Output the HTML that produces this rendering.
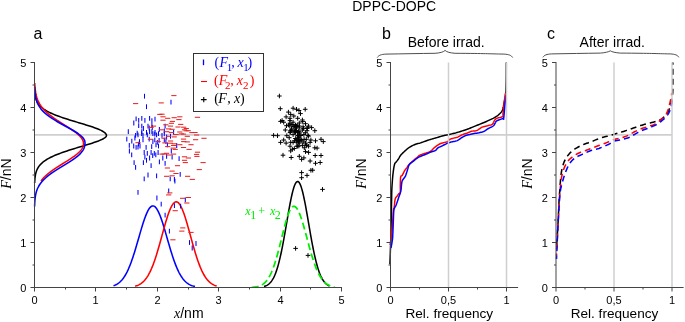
<!DOCTYPE html>
<html><head><meta charset="utf-8"><style>
html,body{margin:0;padding:0;background:#fff;overflow:hidden;}
svg{display:block;}
</style></head><body>
<svg style="will-change:transform" width="685" height="322" viewBox="0 0 685 322">
<line x1="34.5" y1="134.8" x2="672.0" y2="134.8" stroke="#cfcfcf" stroke-width="1.7"/>
<path d="M35.08,95.00 L35.16,95.55 L35.26,96.11 L35.36,96.66 L35.47,97.21 L35.60,97.77 L35.74,98.32 L35.90,98.87 L36.07,99.43 L36.27,99.98 L36.48,100.53 L36.72,101.09 L36.98,101.64 L37.26,102.19 L37.58,102.75 L37.92,103.30 L38.29,103.86 L38.70,104.41 L39.14,104.96 L39.62,105.52 L40.13,106.07 L40.69,106.62 L41.29,107.18 L41.94,107.73 L42.64,108.28 L43.38,108.84 L44.17,109.39 L45.02,109.94 L45.92,110.50 L46.88,111.05 L47.89,111.60 L48.95,112.16 L50.08,112.71 L51.26,113.26 L52.50,113.82 L53.80,114.37 L55.15,114.92 L56.56,115.48 L58.02,116.03 L59.53,116.58 L61.10,117.14 L62.71,117.69 L64.36,118.25 L66.06,118.80 L67.79,119.35 L69.56,119.91 L71.35,120.46 L73.16,121.01 L75.00,121.57 L76.84,122.12 L78.69,122.67 L80.53,123.23 L82.37,123.78 L84.19,124.33 L85.99,124.89 L87.75,125.44 L89.48,125.99 L91.17,126.55 L92.80,127.10 L94.37,127.65 L95.87,128.21 L97.30,128.76 L98.65,129.31 L99.91,129.87 L101.07,130.42 L102.14,130.97 L103.10,131.53 L103.94,132.08 L104.67,132.64 L105.29,133.19 L105.78,133.74 L106.14,134.30 L106.38,134.85 L106.49,135.40 L106.43,135.96 L106.15,136.51 L105.67,137.06 L105.03,137.62 L104.23,138.17 L103.30,138.72 L102.24,139.28 L101.07,139.83 L99.79,140.38 L98.41,140.94 L96.95,141.49 L95.41,142.04 L93.80,142.60 L92.13,143.15 L90.42,143.70 L88.66,144.26 L86.87,144.81 L85.06,145.36 L83.23,145.92 L81.39,146.47 L79.55,147.03 L77.71,147.58 L75.88,148.13 L74.06,148.69 L72.27,149.24 L70.51,149.79 L68.77,150.35 L67.07,150.90 L65.41,151.45 L63.79,152.01 L62.21,152.56 L60.68,153.11 L59.20,153.67 L57.76,154.22 L56.38,154.77 L55.06,155.33 L53.78,155.88 L52.56,156.43 L51.39,156.99 L50.28,157.54 L49.22,158.09 L48.21,158.65 L47.25,159.20 L46.35,159.75 L45.49,160.31 L44.68,160.86 L43.92,161.42 L43.20,161.97 L42.53,162.52 L41.90,163.08 L41.31,163.63 L40.75,164.18 L40.24,164.74 L39.76,165.29 L39.32,165.84 L38.90,166.40 L38.52,166.95 L38.16,167.50 L37.84,168.06 L37.53,168.61 L37.26,169.16 L37.00,169.72 L36.77,170.27 L36.55,170.82 L36.35,171.38 L36.17,171.93 L36.01,172.48 L35.86,173.04 L35.72,173.59 L35.60,174.14 L35.48,174.70 L35.38,175.25 L35.29,175.81 L35.20,176.36 L35.13,176.91 L35.06,177.47 L35.00,178.02 L34.94,178.57 L34.89,179.13 L34.85,179.68 L34.81,180.23 L34.77,180.79 L34.74,181.34 L34.71,181.89 L34.69,182.45 L34.67,183.00" fill="none" stroke="#000" stroke-width="1.55" stroke-linejoin="round"/>
<path d="M34.76,83.10 L34.79,83.72 L34.82,84.33 L34.86,84.95 L34.90,85.56 L34.94,86.18 L34.99,86.79 L35.04,87.41 L35.09,88.03 L35.15,88.64 L35.22,89.26 L35.29,89.87 L35.37,90.49 L35.45,91.10 L35.55,91.72 L35.65,92.34 L35.75,92.95 L35.87,93.57 L36.00,94.18 L36.13,94.80 L36.28,95.41 L36.43,96.03 L36.60,96.65 L36.78,97.26 L36.97,97.88 L37.18,98.49 L37.40,99.11 L37.63,99.72 L37.88,100.34 L38.15,100.96 L38.43,101.57 L38.73,102.19 L39.05,102.80 L39.39,103.42 L39.74,104.03 L40.12,104.65 L40.52,105.27 L40.93,105.88 L41.37,106.50 L41.83,107.11 L42.31,107.73 L42.82,108.34 L43.35,108.96 L43.90,109.58 L44.47,110.19 L45.07,110.81 L45.70,111.42 L46.34,112.04 L47.01,112.65 L47.71,113.27 L48.42,113.89 L49.16,114.50 L49.93,115.12 L50.71,115.73 L51.52,116.35 L52.34,116.96 L53.19,117.58 L54.05,118.20 L54.94,118.81 L55.84,119.43 L56.75,120.04 L57.68,120.66 L58.62,121.27 L59.57,121.89 L60.54,122.51 L61.50,123.12 L62.48,123.74 L63.46,124.35 L64.44,124.97 L65.42,125.58 L66.39,126.20 L67.37,126.82 L68.33,127.43 L69.29,128.05 L70.23,128.66 L71.16,129.28 L72.07,129.89 L72.96,130.51 L73.84,131.13 L74.68,131.74 L75.50,132.36 L76.30,132.97 L77.06,133.59 L77.79,134.21 L78.48,134.82 L79.14,135.44 L79.75,136.05 L80.33,136.67 L80.86,137.28 L81.34,137.90 L81.78,138.52 L82.18,139.13 L82.52,139.75 L82.81,140.36 L83.05,140.98 L83.25,141.59 L83.38,142.21 L83.47,142.83 L83.50,143.44 L83.49,144.06 L83.43,144.67 L83.33,145.29 L83.19,145.90 L83.00,146.52 L82.77,147.14 L82.49,147.75 L82.16,148.37 L81.78,148.98 L81.36,149.60 L80.89,150.21 L80.38,150.83 L79.83,151.45 L79.24,152.06 L78.60,152.68 L77.93,153.29 L77.22,153.91 L76.47,154.52 L75.69,155.14 L74.88,155.76 L74.05,156.37 L73.18,156.99 L72.29,157.60 L71.38,158.22 L70.45,158.83 L69.51,159.45 L68.55,160.07 L67.57,160.68 L66.59,161.30 L65.60,161.91 L64.60,162.53 L63.61,163.14 L62.61,163.76 L61.61,164.38 L60.62,164.99 L59.64,165.61 L58.66,166.22 L57.69,166.84 L56.74,167.45 L55.80,168.07 L54.87,168.69 L53.96,169.30 L53.07,169.92 L52.20,170.53 L51.35,171.15 L50.52,171.76 L49.71,172.38 L48.92,173.00 L48.16,173.61 L47.43,174.23 L46.71,174.84 L46.03,175.46 L45.36,176.07 L44.73,176.69 L44.11,177.31 L43.53,177.92 L42.97,178.54 L42.43,179.15 L41.92,179.77 L41.43,180.38 L40.97,181.00" fill="none" stroke="#ff0000" stroke-width="1.55" stroke-linejoin="round"/>
<path d="M34.68,86.80 L34.71,87.55 L34.74,88.31 L34.78,89.06 L34.83,89.81 L34.88,90.57 L34.93,91.32 L35.00,92.07 L35.07,92.83 L35.15,93.58 L35.24,94.33 L35.35,95.09 L35.46,95.84 L35.59,96.59 L35.74,97.35 L35.90,98.10 L36.08,98.86 L36.28,99.61 L36.50,100.36 L36.74,101.12 L37.00,101.87 L37.30,102.62 L37.61,103.38 L37.96,104.13 L38.34,104.88 L38.75,105.64 L39.20,106.39 L39.68,107.14 L40.20,107.90 L40.76,108.65 L41.37,109.40 L42.01,110.16 L42.70,110.91 L43.43,111.66 L44.20,112.42 L45.02,113.17 L45.89,113.92 L46.81,114.68 L47.77,115.43 L48.77,116.18 L49.83,116.94 L50.92,117.69 L52.06,118.45 L53.23,119.20 L54.45,119.95 L55.70,120.71 L56.98,121.46 L58.29,122.21 L59.63,122.97 L60.98,123.72 L62.35,124.47 L63.74,125.23 L65.12,125.98 L66.51,126.73 L67.89,127.49 L69.26,128.24 L70.62,128.99 L71.94,129.75 L73.24,130.50 L74.50,131.25 L75.72,132.01 L76.88,132.76 L77.99,133.51 L79.03,134.27 L80.01,135.02 L80.91,135.77 L81.74,136.53 L82.48,137.28 L83.13,138.04 L83.69,138.79 L84.15,139.54 L84.52,140.30 L84.78,141.05 L84.94,141.80 L85.00,142.56 L84.99,143.31 L84.96,144.06 L84.89,144.82 L84.77,145.57 L84.61,146.32 L84.41,147.08 L84.15,147.83 L83.83,148.58 L83.47,149.34 L83.04,150.09 L82.56,150.84 L82.02,151.60 L81.42,152.35 L80.76,153.10 L80.05,153.86 L79.29,154.61 L78.47,155.36 L77.60,156.12 L76.68,156.87 L75.71,157.63 L74.70,158.38 L73.66,159.13 L72.57,159.89 L71.45,160.64 L70.31,161.39 L69.14,162.15 L67.94,162.90 L66.73,163.65 L65.51,164.41 L64.28,165.16 L63.04,165.91 L61.81,166.67 L60.57,167.42 L59.35,168.17 L58.13,168.93 L56.94,169.68 L55.75,170.43 L54.60,171.19 L53.46,171.94 L52.35,172.69 L51.28,173.45 L50.23,174.20 L49.22,174.95 L48.25,175.71 L47.31,176.46 L46.41,177.22 L45.55,177.97 L44.73,178.72 L43.95,179.48 L43.21,180.23 L42.51,180.98 L41.85,181.74 L41.23,182.49 L40.64,183.24 L40.10,184.00 L39.59,184.75 L39.12,185.50 L38.68,186.26 L38.27,187.01 L37.90,187.76 L37.55,188.52 L37.24,189.27 L36.95,190.02 L36.68,190.78 L36.44,191.53 L36.22,192.28 L36.03,193.04 L35.85,193.79 L35.69,194.54 L35.54,195.30 L35.42,196.05 L35.30,196.81 L35.20,197.56 L35.11,198.31 L35.03,199.07 L34.96,199.82 L34.89,200.57 L34.84,201.33 L34.79,202.08 L34.75,202.83 L34.71,203.59 L34.68,204.34 L34.65,205.09 L34.63,205.85 L34.61,206.60" fill="none" stroke="#0000ff" stroke-width="1.55" stroke-linejoin="round"/>
<path d="M113.50,285.76 L114.09,285.55 L114.67,285.32 L115.26,285.07 L115.85,284.79 L116.43,284.48 L117.02,284.15 L117.60,283.78 L118.19,283.39 L118.78,282.95 L119.36,282.48 L119.95,281.97 L120.54,281.42 L121.12,280.83 L121.71,280.19 L122.29,279.50 L122.88,278.76 L123.47,277.98 L124.05,277.13 L124.64,276.24 L125.23,275.28 L125.81,274.27 L126.40,273.20 L126.99,272.07 L127.57,270.87 L128.16,269.62 L128.74,268.30 L129.33,266.92 L129.92,265.48 L130.50,263.98 L131.09,262.41 L131.68,260.79 L132.26,259.12 L132.85,257.39 L133.44,255.61 L134.02,253.78 L134.61,251.91 L135.19,250.00 L135.78,248.05 L136.37,246.07 L136.95,244.07 L137.54,242.04 L138.13,240.01 L138.71,237.96 L139.30,235.92 L139.88,233.89 L140.47,231.87 L141.06,229.87 L141.64,227.90 L142.23,225.97 L142.82,224.08 L143.40,222.25 L143.99,220.48 L144.58,218.78 L145.16,217.16 L145.75,215.62 L146.33,214.17 L146.92,212.82 L147.51,211.58 L148.09,210.44 L148.68,209.43 L149.27,208.53 L149.85,207.76 L150.44,207.12 L151.03,206.61 L151.61,206.24 L152.20,206.00 L152.78,205.90 L153.37,205.94 L153.96,206.13 L154.54,206.44 L155.13,206.90 L155.72,207.49 L156.30,208.21 L156.89,209.06 L157.47,210.03 L158.06,211.12 L158.65,212.32 L159.23,213.63 L159.82,215.04 L160.41,216.54 L160.99,218.13 L161.58,219.80 L162.17,221.55 L162.75,223.35 L163.34,225.22 L163.92,227.13 L164.51,229.09 L165.10,231.07 L165.68,233.09 L166.27,235.12 L166.86,237.16 L167.44,239.20 L168.03,241.24 L168.62,243.27 L169.20,245.28 L169.79,247.27 L170.37,249.23 L170.96,251.16 L171.55,253.05 L172.13,254.89 L172.72,256.69 L173.31,258.44 L173.89,260.14 L174.48,261.78 L175.06,263.37 L175.65,264.89 L176.24,266.36 L176.82,267.76 L177.41,269.10 L178.00,270.38 L178.58,271.60 L179.17,272.76 L179.76,273.85 L180.34,274.89 L180.93,275.87 L181.51,276.79 L182.10,277.65 L182.69,278.46 L183.27,279.22 L183.86,279.92 L184.45,280.58 L185.03,281.19 L185.62,281.76 L186.21,282.29 L186.79,282.77 L187.38,283.22 L187.96,283.63 L188.55,284.01 L189.14,284.36 L189.72,284.67 L190.31,284.96 L190.90,285.22 L191.48,285.46 L192.07,285.68 L192.65,285.88 L193.24,286.06 L193.83,286.22 L194.41,286.36 L195.00,286.49" fill="none" stroke="#0000ff" stroke-width="1.55" stroke-linejoin="round"/>
<path d="M135.10,286.20 L135.69,286.04 L136.27,285.85 L136.86,285.65 L137.45,285.43 L138.04,285.19 L138.62,284.92 L139.21,284.62 L139.80,284.29 L140.38,283.94 L140.97,283.55 L141.56,283.13 L142.14,282.67 L142.73,282.17 L143.32,281.63 L143.91,281.05 L144.49,280.42 L145.08,279.74 L145.67,279.01 L146.25,278.23 L146.84,277.39 L147.43,276.50 L148.02,275.55 L148.60,274.54 L149.19,273.46 L149.78,272.33 L150.36,271.13 L150.95,269.86 L151.54,268.53 L152.12,267.14 L152.71,265.68 L153.30,264.16 L153.89,262.57 L154.47,260.92 L155.06,259.21 L155.65,257.44 L156.23,255.61 L156.82,253.73 L157.41,251.80 L157.99,249.82 L158.58,247.81 L159.17,245.75 L159.76,243.67 L160.34,241.56 L160.93,239.43 L161.52,237.29 L162.10,235.14 L162.69,232.99 L163.28,230.85 L163.87,228.73 L164.45,226.64 L165.04,224.57 L165.63,222.55 L166.21,220.58 L166.80,218.66 L167.39,216.81 L167.97,215.04 L168.56,213.34 L169.15,211.74 L169.74,210.23 L170.32,208.83 L170.91,207.55 L171.50,206.37 L172.08,205.33 L172.67,204.41 L173.26,203.62 L173.85,202.97 L174.43,202.46 L175.02,202.10 L175.61,201.87 L176.19,201.80 L176.78,201.87 L177.37,202.09 L177.95,202.45 L178.54,202.96 L179.13,203.60 L179.72,204.39 L180.30,205.30 L180.89,206.35 L181.48,207.52 L182.06,208.80 L182.65,210.20 L183.24,211.71 L183.83,213.31 L184.41,215.00 L185.00,216.77 L185.59,218.62 L186.17,220.53 L186.76,222.50 L187.35,224.53 L187.93,226.59 L188.52,228.69 L189.11,230.81 L189.70,232.94 L190.28,235.09 L190.87,237.24 L191.46,239.38 L192.04,241.51 L192.63,243.62 L193.22,245.71 L193.81,247.76 L194.39,249.78 L194.98,251.76 L195.57,253.69 L196.15,255.57 L196.74,257.40 L197.33,259.17 L197.91,260.88 L198.50,262.53 L199.09,264.12 L199.68,265.65 L200.26,267.11 L200.85,268.50 L201.44,269.84 L202.02,271.10 L202.61,272.30 L203.20,273.44 L203.78,274.51 L204.37,275.52 L204.96,276.48 L205.55,277.37 L206.13,278.21 L206.72,278.99 L207.31,279.72 L207.89,280.40 L208.48,281.03 L209.07,281.62 L209.66,282.16 L210.24,282.66 L210.83,283.12 L211.42,283.54 L212.00,283.93 L212.59,284.29 L213.18,284.61 L213.76,284.91 L214.35,285.18 L214.94,285.43 L215.53,285.65 L216.11,285.85 L216.70,286.03" fill="none" stroke="#ff0000" stroke-width="1.55" stroke-linejoin="round"/>
<path d="M264.00,286.50 L264.47,286.36 L264.94,286.21 L265.41,286.03 L265.88,285.84 L266.36,285.62 L266.83,285.38 L267.30,285.11 L267.77,284.82 L268.24,284.49 L268.71,284.13 L269.18,283.73 L269.65,283.29 L270.13,282.82 L270.60,282.29 L271.07,281.72 L271.54,281.10 L272.01,280.42 L272.48,279.68 L272.95,278.89 L273.42,278.03 L273.90,277.10 L274.37,276.11 L274.84,275.04 L275.31,273.90 L275.78,272.68 L276.25,271.38 L276.72,270.00 L277.19,268.53 L277.67,266.98 L278.14,265.34 L278.61,263.62 L279.08,261.81 L279.55,259.92 L280.02,257.94 L280.49,255.87 L280.96,253.72 L281.44,251.49 L281.91,249.19 L282.38,246.81 L282.85,244.37 L283.32,241.86 L283.79,239.29 L284.26,236.68 L284.73,234.02 L285.21,231.32 L285.68,228.59 L286.15,225.85 L286.62,223.10 L287.09,220.35 L287.56,217.60 L288.03,214.88 L288.50,212.20 L288.97,209.55 L289.45,206.96 L289.92,204.44 L290.39,202.00 L290.86,199.64 L291.33,197.39 L291.80,195.25 L292.27,193.23 L292.74,191.34 L293.22,189.59 L293.69,188.00 L294.16,186.56 L294.63,185.30 L295.10,184.20 L295.57,183.29 L296.04,182.56 L296.51,182.01 L296.99,181.67 L297.46,181.51 L297.93,181.55 L298.40,181.78 L298.87,182.20 L299.34,182.82 L299.81,183.62 L300.28,184.61 L300.76,185.77 L301.23,187.11 L301.70,188.61 L302.17,190.26 L302.64,192.06 L303.11,194.00 L303.58,196.07 L304.05,198.26 L304.53,200.56 L305.00,202.95 L305.47,205.42 L305.94,207.97 L306.41,210.58 L306.88,213.25 L307.35,215.95 L307.82,218.68 L308.29,221.43 L308.77,224.18 L309.24,226.93 L309.71,229.67 L310.18,232.38 L310.65,235.06 L311.12,237.71 L311.59,240.31 L312.06,242.85 L312.54,245.33 L313.01,247.75 L313.48,250.10 L313.95,252.38 L314.42,254.57 L314.89,256.69 L315.36,258.72 L315.83,260.67 L316.31,262.53 L316.78,264.31 L317.25,266.00 L317.72,267.60 L318.19,269.12 L318.66,270.55 L319.13,271.90 L319.60,273.17 L320.08,274.35 L320.55,275.47 L321.02,276.51 L321.49,277.47 L321.96,278.37 L322.43,279.21 L322.90,279.98 L323.37,280.69 L323.85,281.35 L324.32,281.95 L324.79,282.50 L325.26,283.01 L325.73,283.47 L326.20,283.89 L326.67,284.28 L327.14,284.62 L327.62,284.94 L328.09,285.22 L328.56,285.48 L329.03,285.71 L329.50,285.92" fill="none" stroke="#000" stroke-width="1.55" stroke-linejoin="round"/>
<path d="M251.70,287.29 L252.30,287.25 L252.89,287.21 L253.49,287.15 L254.08,287.09 L254.68,287.03 L255.27,286.95 L255.87,286.85 L256.47,286.75 L257.06,286.63 L257.66,286.49 L258.25,286.34 L258.85,286.16 L259.44,285.96 L260.04,285.74 L260.64,285.48 L261.23,285.20 L261.83,284.88 L262.42,284.53 L263.02,284.13 L263.61,283.70 L264.21,283.21 L264.81,282.68 L265.40,282.09 L266.00,281.45 L266.59,280.75 L267.19,279.98 L267.78,279.14 L268.38,278.24 L268.97,277.26 L269.57,276.20 L270.17,275.06 L270.76,273.85 L271.36,272.55 L271.95,271.16 L272.55,269.69 L273.14,268.13 L273.74,266.49 L274.34,264.76 L274.93,262.94 L275.53,261.05 L276.12,259.08 L276.72,257.03 L277.31,254.91 L277.91,252.73 L278.51,250.49 L279.10,248.20 L279.70,245.87 L280.29,243.51 L280.89,241.12 L281.48,238.72 L282.08,236.31 L282.68,233.92 L283.27,231.55 L283.87,229.21 L284.46,226.92 L285.06,224.68 L285.65,222.53 L286.25,220.45 L286.85,218.48 L287.44,216.61 L288.04,214.87 L288.63,213.27 L289.23,211.81 L289.82,210.50 L290.42,209.36 L291.02,208.39 L291.61,207.60 L292.21,206.99 L292.80,206.57 L293.40,206.34 L293.99,206.31 L294.59,206.45 L295.18,206.75 L295.78,207.21 L296.38,207.83 L296.97,208.61 L297.57,209.54 L298.16,210.62 L298.76,211.83 L299.35,213.18 L299.95,214.65 L300.55,216.24 L301.14,217.94 L301.74,219.73 L302.33,221.61 L302.93,223.57 L303.52,225.60 L304.12,227.68 L304.72,229.82 L305.31,231.99 L305.91,234.18 L306.50,236.40 L307.10,238.62 L307.69,240.84 L308.29,243.05 L308.89,245.24 L309.48,247.40 L310.08,249.54 L310.67,251.63 L311.27,253.67 L311.86,255.67 L312.46,257.60 L313.06,259.48 L313.65,261.29 L314.25,263.04 L314.84,264.71 L315.44,266.31 L316.03,267.84 L316.63,269.30 L317.23,270.69 L317.82,272.00 L318.42,273.23 L319.01,274.40 L319.61,275.49 L320.20,276.52 L320.80,277.47 L321.39,278.37 L321.99,279.20 L322.59,279.97 L323.18,280.68 L323.78,281.34 L324.37,281.95 L324.97,282.50 L325.56,283.01 L326.16,283.48 L326.76,283.90 L327.35,284.29 L327.95,284.64 L328.54,284.96 L329.14,285.24 L329.73,285.50 L330.33,285.74 L330.93,285.94 L331.52,286.13 L332.12,286.30 L332.71,286.45 L333.31,286.58 L333.90,286.70 L334.50,286.80" fill="none" stroke="#00ee00" stroke-width="1.75" stroke-linejoin="round" stroke-dasharray="7 3.6"/>
<line x1="144.5" y1="93.8" x2="144.5" y2="98.6" stroke="#0000ff" stroke-width="1.05"/>
<line x1="146.5" y1="104.3" x2="146.5" y2="109.1" stroke="#0000ff" stroke-width="1.05"/>
<line x1="136.1" y1="116.5" x2="136.1" y2="121.3" stroke="#0000ff" stroke-width="1.05"/>
<line x1="138.7" y1="118.0" x2="138.7" y2="122.8" stroke="#0000ff" stroke-width="1.05"/>
<line x1="141.8" y1="116.0" x2="141.8" y2="120.8" stroke="#0000ff" stroke-width="1.05"/>
<line x1="144.9" y1="118.0" x2="144.9" y2="122.8" stroke="#0000ff" stroke-width="1.05"/>
<line x1="149.6" y1="116.0" x2="149.6" y2="120.8" stroke="#0000ff" stroke-width="1.05"/>
<line x1="151.9" y1="118.3" x2="151.9" y2="123.1" stroke="#0000ff" stroke-width="1.05"/>
<line x1="155.0" y1="116.8" x2="155.0" y2="121.6" stroke="#0000ff" stroke-width="1.05"/>
<line x1="133.8" y1="120.6" x2="133.8" y2="125.4" stroke="#0000ff" stroke-width="1.05"/>
<line x1="138.7" y1="123.3" x2="138.7" y2="128.1" stroke="#0000ff" stroke-width="1.05"/>
<line x1="141.8" y1="123.7" x2="141.8" y2="128.5" stroke="#0000ff" stroke-width="1.05"/>
<line x1="148.0" y1="123.7" x2="148.0" y2="128.5" stroke="#0000ff" stroke-width="1.05"/>
<line x1="151.9" y1="123.0" x2="151.9" y2="127.8" stroke="#0000ff" stroke-width="1.05"/>
<line x1="128.3" y1="129.2" x2="128.3" y2="134.0" stroke="#0000ff" stroke-width="1.05"/>
<line x1="137.2" y1="130.7" x2="137.2" y2="135.5" stroke="#0000ff" stroke-width="1.05"/>
<line x1="141.8" y1="129.2" x2="141.8" y2="134.0" stroke="#0000ff" stroke-width="1.05"/>
<line x1="143.4" y1="126.1" x2="143.4" y2="130.9" stroke="#0000ff" stroke-width="1.05"/>
<line x1="146.5" y1="130.0" x2="146.5" y2="134.8" stroke="#0000ff" stroke-width="1.05"/>
<line x1="149.6" y1="129.2" x2="149.6" y2="134.0" stroke="#0000ff" stroke-width="1.05"/>
<line x1="151.9" y1="129.2" x2="151.9" y2="134.0" stroke="#0000ff" stroke-width="1.05"/>
<line x1="155.0" y1="130.0" x2="155.0" y2="134.8" stroke="#0000ff" stroke-width="1.05"/>
<line x1="159.4" y1="126.9" x2="159.4" y2="131.7" stroke="#0000ff" stroke-width="1.05"/>
<line x1="149.2" y1="125.6" x2="149.2" y2="130.4" stroke="#0000ff" stroke-width="1.05"/>
<line x1="152.3" y1="125.0" x2="152.3" y2="129.8" stroke="#0000ff" stroke-width="1.05"/>
<line x1="138.0" y1="132.4" x2="138.0" y2="137.2" stroke="#0000ff" stroke-width="1.05"/>
<line x1="141.7" y1="131.2" x2="141.7" y2="136.0" stroke="#0000ff" stroke-width="1.05"/>
<line x1="143.0" y1="133.1" x2="143.0" y2="137.9" stroke="#0000ff" stroke-width="1.05"/>
<line x1="147.3" y1="132.4" x2="147.3" y2="137.2" stroke="#0000ff" stroke-width="1.05"/>
<line x1="152.9" y1="131.2" x2="152.9" y2="136.0" stroke="#0000ff" stroke-width="1.05"/>
<line x1="154.8" y1="131.8" x2="154.8" y2="136.6" stroke="#0000ff" stroke-width="1.05"/>
<line x1="156.6" y1="132.4" x2="156.6" y2="137.2" stroke="#0000ff" stroke-width="1.05"/>
<line x1="158.5" y1="131.2" x2="158.5" y2="136.0" stroke="#0000ff" stroke-width="1.05"/>
<line x1="126.8" y1="136.8" x2="126.8" y2="141.6" stroke="#0000ff" stroke-width="1.05"/>
<line x1="131.8" y1="138.7" x2="131.8" y2="143.5" stroke="#0000ff" stroke-width="1.05"/>
<line x1="134.9" y1="135.6" x2="134.9" y2="140.4" stroke="#0000ff" stroke-width="1.05"/>
<line x1="143.0" y1="137.4" x2="143.0" y2="142.2" stroke="#0000ff" stroke-width="1.05"/>
<line x1="149.2" y1="136.8" x2="149.2" y2="141.6" stroke="#0000ff" stroke-width="1.05"/>
<line x1="152.9" y1="139.3" x2="152.9" y2="144.1" stroke="#0000ff" stroke-width="1.05"/>
<line x1="154.8" y1="137.4" x2="154.8" y2="142.2" stroke="#0000ff" stroke-width="1.05"/>
<line x1="157.3" y1="139.9" x2="157.3" y2="144.7" stroke="#0000ff" stroke-width="1.05"/>
<line x1="159.1" y1="138.0" x2="159.1" y2="142.8" stroke="#0000ff" stroke-width="1.05"/>
<line x1="129.3" y1="143.0" x2="129.3" y2="147.8" stroke="#0000ff" stroke-width="1.05"/>
<line x1="133.7" y1="143.6" x2="133.7" y2="148.4" stroke="#0000ff" stroke-width="1.05"/>
<line x1="136.1" y1="144.9" x2="136.1" y2="149.7" stroke="#0000ff" stroke-width="1.05"/>
<line x1="138.6" y1="141.8" x2="138.6" y2="146.6" stroke="#0000ff" stroke-width="1.05"/>
<line x1="140.0" y1="143.6" x2="140.0" y2="148.4" stroke="#0000ff" stroke-width="1.05"/>
<line x1="146.1" y1="144.9" x2="146.1" y2="149.7" stroke="#0000ff" stroke-width="1.05"/>
<line x1="151.7" y1="144.2" x2="151.7" y2="149.0" stroke="#0000ff" stroke-width="1.05"/>
<line x1="156.0" y1="142.4" x2="156.0" y2="147.2" stroke="#0000ff" stroke-width="1.05"/>
<line x1="158.5" y1="143.6" x2="158.5" y2="148.4" stroke="#0000ff" stroke-width="1.05"/>
<line x1="135.6" y1="133.0" x2="135.6" y2="137.8" stroke="#0000ff" stroke-width="1.05"/>
<line x1="139.5" y1="139.2" x2="139.5" y2="144.0" stroke="#0000ff" stroke-width="1.05"/>
<line x1="138.0" y1="144.7" x2="138.0" y2="149.5" stroke="#0000ff" stroke-width="1.05"/>
<line x1="129.4" y1="148.6" x2="129.4" y2="153.4" stroke="#0000ff" stroke-width="1.05"/>
<line x1="144.2" y1="150.1" x2="144.2" y2="154.9" stroke="#0000ff" stroke-width="1.05"/>
<line x1="147.3" y1="150.9" x2="147.3" y2="155.7" stroke="#0000ff" stroke-width="1.05"/>
<line x1="151.1" y1="150.1" x2="151.1" y2="154.9" stroke="#0000ff" stroke-width="1.05"/>
<line x1="154.3" y1="150.9" x2="154.3" y2="155.7" stroke="#0000ff" stroke-width="1.05"/>
<line x1="158.1" y1="150.1" x2="158.1" y2="154.9" stroke="#0000ff" stroke-width="1.05"/>
<line x1="131.7" y1="152.4" x2="131.7" y2="157.2" stroke="#0000ff" stroke-width="1.05"/>
<line x1="144.9" y1="154.8" x2="144.9" y2="159.6" stroke="#0000ff" stroke-width="1.05"/>
<line x1="149.6" y1="155.6" x2="149.6" y2="160.4" stroke="#0000ff" stroke-width="1.05"/>
<line x1="152.7" y1="153.2" x2="152.7" y2="158.0" stroke="#0000ff" stroke-width="1.05"/>
<line x1="155.8" y1="152.4" x2="155.8" y2="157.2" stroke="#0000ff" stroke-width="1.05"/>
<line x1="146.5" y1="157.9" x2="146.5" y2="162.7" stroke="#0000ff" stroke-width="1.05"/>
<line x1="159.4" y1="159.4" x2="159.4" y2="164.2" stroke="#0000ff" stroke-width="1.05"/>
<line x1="134.1" y1="160.2" x2="134.1" y2="165.0" stroke="#0000ff" stroke-width="1.05"/>
<line x1="143.4" y1="160.2" x2="143.4" y2="165.0" stroke="#0000ff" stroke-width="1.05"/>
<line x1="135.6" y1="164.9" x2="135.6" y2="169.7" stroke="#0000ff" stroke-width="1.05"/>
<line x1="151.1" y1="163.3" x2="151.1" y2="168.1" stroke="#0000ff" stroke-width="1.05"/>
<line x1="148.0" y1="172.6" x2="148.0" y2="177.4" stroke="#0000ff" stroke-width="1.05"/>
<line x1="144.2" y1="176.5" x2="144.2" y2="181.3" stroke="#0000ff" stroke-width="1.05"/>
<line x1="156.6" y1="173.4" x2="156.6" y2="178.2" stroke="#0000ff" stroke-width="1.05"/>
<line x1="171.0" y1="99.7" x2="171.0" y2="104.5" stroke="#0000ff" stroke-width="1.05"/>
<line x1="165.1" y1="123.7" x2="165.1" y2="128.5" stroke="#0000ff" stroke-width="1.05"/>
<line x1="164.3" y1="128.4" x2="164.3" y2="133.2" stroke="#0000ff" stroke-width="1.05"/>
<line x1="173.6" y1="130.0" x2="173.6" y2="134.8" stroke="#0000ff" stroke-width="1.05"/>
<line x1="162.0" y1="133.0" x2="162.0" y2="137.8" stroke="#0000ff" stroke-width="1.05"/>
<line x1="164.3" y1="131.5" x2="164.3" y2="136.3" stroke="#0000ff" stroke-width="1.05"/>
<line x1="166.6" y1="134.6" x2="166.6" y2="139.4" stroke="#0000ff" stroke-width="1.05"/>
<line x1="170.5" y1="133.8" x2="170.5" y2="138.6" stroke="#0000ff" stroke-width="1.05"/>
<line x1="164.3" y1="137.7" x2="164.3" y2="142.5" stroke="#0000ff" stroke-width="1.05"/>
<line x1="165.9" y1="139.2" x2="165.9" y2="144.0" stroke="#0000ff" stroke-width="1.05"/>
<line x1="167.4" y1="142.4" x2="167.4" y2="147.2" stroke="#0000ff" stroke-width="1.05"/>
<line x1="176.7" y1="143.1" x2="176.7" y2="147.9" stroke="#0000ff" stroke-width="1.05"/>
<line x1="162.8" y1="155.6" x2="162.8" y2="160.4" stroke="#0000ff" stroke-width="1.05"/>
<line x1="166.6" y1="154.0" x2="166.6" y2="158.8" stroke="#0000ff" stroke-width="1.05"/>
<line x1="171.3" y1="148.6" x2="171.3" y2="153.4" stroke="#0000ff" stroke-width="1.05"/>
<line x1="172.1" y1="154.8" x2="172.1" y2="159.6" stroke="#0000ff" stroke-width="1.05"/>
<line x1="179.1" y1="156.3" x2="179.1" y2="161.1" stroke="#0000ff" stroke-width="1.05"/>
<line x1="165.1" y1="161.0" x2="165.1" y2="165.8" stroke="#0000ff" stroke-width="1.05"/>
<line x1="180.2" y1="171.9" x2="180.2" y2="176.7" stroke="#0000ff" stroke-width="1.05"/>
<line x1="174.4" y1="177.0" x2="174.4" y2="181.8" stroke="#0000ff" stroke-width="1.05"/>
<line x1="138.0" y1="190.0" x2="138.0" y2="194.8" stroke="#0000ff" stroke-width="1.05"/>
<line x1="156.9" y1="195.6" x2="156.9" y2="200.4" stroke="#0000ff" stroke-width="1.05"/>
<line x1="170.2" y1="176.5" x2="170.2" y2="181.3" stroke="#0000ff" stroke-width="1.05"/>
<line x1="174.9" y1="178.8" x2="174.9" y2="183.6" stroke="#0000ff" stroke-width="1.05"/>
<line x1="168.7" y1="188.4" x2="168.7" y2="193.2" stroke="#0000ff" stroke-width="1.05"/>
<line x1="161.2" y1="201.8" x2="161.2" y2="206.6" stroke="#0000ff" stroke-width="1.05"/>
<line x1="174.4" y1="203.3" x2="174.4" y2="208.1" stroke="#0000ff" stroke-width="1.05"/>
<line x1="180.6" y1="203.7" x2="180.6" y2="208.5" stroke="#0000ff" stroke-width="1.05"/>
<line x1="185.3" y1="197.4" x2="185.3" y2="202.2" stroke="#0000ff" stroke-width="1.05"/>
<line x1="165.1" y1="212.7" x2="165.1" y2="217.5" stroke="#0000ff" stroke-width="1.05"/>
<line x1="169.4" y1="228.7" x2="169.4" y2="233.5" stroke="#0000ff" stroke-width="1.05"/>
<line x1="189.5" y1="240.1" x2="189.5" y2="244.9" stroke="#0000ff" stroke-width="1.05"/>
<line x1="192.2" y1="245.6" x2="192.2" y2="250.4" stroke="#0000ff" stroke-width="1.05"/>
<line x1="196.0" y1="241.1" x2="196.0" y2="245.9" stroke="#0000ff" stroke-width="1.05"/>
<line x1="133.0" y1="103.6" x2="138.2" y2="103.6" stroke="#e82424" stroke-width="1.05"/>
<line x1="158.6" y1="102.9" x2="163.8" y2="102.9" stroke="#e82424" stroke-width="1.05"/>
<line x1="150.9" y1="126.1" x2="156.1" y2="126.1" stroke="#e82424" stroke-width="1.05"/>
<line x1="148.5" y1="127.4" x2="153.7" y2="127.4" stroke="#e82424" stroke-width="1.05"/>
<line x1="157.2" y1="114.4" x2="162.4" y2="114.4" stroke="#e82424" stroke-width="1.05"/>
<line x1="171.3" y1="95.6" x2="176.5" y2="95.6" stroke="#e82424" stroke-width="1.05"/>
<line x1="159.4" y1="114.2" x2="164.6" y2="114.2" stroke="#e82424" stroke-width="1.05"/>
<line x1="160.4" y1="116.8" x2="165.6" y2="116.8" stroke="#e82424" stroke-width="1.05"/>
<line x1="165.1" y1="118.3" x2="170.3" y2="118.3" stroke="#e82424" stroke-width="1.05"/>
<line x1="171.6" y1="117.7" x2="176.8" y2="117.7" stroke="#e82424" stroke-width="1.05"/>
<line x1="177.2" y1="116.8" x2="182.4" y2="116.8" stroke="#e82424" stroke-width="1.05"/>
<line x1="176.3" y1="119.6" x2="181.5" y2="119.6" stroke="#e82424" stroke-width="1.05"/>
<line x1="194.8" y1="117.3" x2="200.0" y2="117.3" stroke="#e82424" stroke-width="1.05"/>
<line x1="160.4" y1="120.2" x2="165.6" y2="120.2" stroke="#e82424" stroke-width="1.05"/>
<line x1="169.8" y1="121.4" x2="175.0" y2="121.4" stroke="#e82424" stroke-width="1.05"/>
<line x1="168.8" y1="123.3" x2="174.0" y2="123.3" stroke="#e82424" stroke-width="1.05"/>
<line x1="163.2" y1="124.8" x2="168.4" y2="124.8" stroke="#e82424" stroke-width="1.05"/>
<line x1="167.9" y1="126.1" x2="173.1" y2="126.1" stroke="#e82424" stroke-width="1.05"/>
<line x1="178.1" y1="124.4" x2="183.3" y2="124.4" stroke="#e82424" stroke-width="1.05"/>
<line x1="175.4" y1="127.0" x2="180.6" y2="127.0" stroke="#e82424" stroke-width="1.05"/>
<line x1="181.1" y1="127.2" x2="186.3" y2="127.2" stroke="#e82424" stroke-width="1.05"/>
<line x1="183.7" y1="128.5" x2="188.9" y2="128.5" stroke="#e82424" stroke-width="1.05"/>
<line x1="166.0" y1="128.9" x2="171.2" y2="128.9" stroke="#e82424" stroke-width="1.05"/>
<line x1="181.9" y1="129.8" x2="187.1" y2="129.8" stroke="#e82424" stroke-width="1.05"/>
<line x1="158.6" y1="129.8" x2="163.8" y2="129.8" stroke="#e82424" stroke-width="1.05"/>
<line x1="185.6" y1="130.7" x2="190.8" y2="130.7" stroke="#e82424" stroke-width="1.05"/>
<line x1="164.2" y1="131.7" x2="169.4" y2="131.7" stroke="#e82424" stroke-width="1.05"/>
<line x1="168.8" y1="132.6" x2="174.0" y2="132.6" stroke="#e82424" stroke-width="1.05"/>
<line x1="177.2" y1="132.0" x2="182.4" y2="132.0" stroke="#e82424" stroke-width="1.05"/>
<line x1="189.3" y1="132.6" x2="194.5" y2="132.6" stroke="#e82424" stroke-width="1.05"/>
<line x1="173.5" y1="134.5" x2="178.7" y2="134.5" stroke="#e82424" stroke-width="1.05"/>
<line x1="180.9" y1="134.1" x2="186.1" y2="134.1" stroke="#e82424" stroke-width="1.05"/>
<line x1="194.0" y1="135.0" x2="199.2" y2="135.0" stroke="#e82424" stroke-width="1.05"/>
<line x1="166.0" y1="136.3" x2="171.2" y2="136.3" stroke="#e82424" stroke-width="1.05"/>
<line x1="171.6" y1="136.9" x2="176.8" y2="136.9" stroke="#e82424" stroke-width="1.05"/>
<line x1="184.7" y1="136.3" x2="189.9" y2="136.3" stroke="#e82424" stroke-width="1.05"/>
<line x1="201.4" y1="138.3" x2="206.6" y2="138.3" stroke="#e82424" stroke-width="1.05"/>
<line x1="161.4" y1="138.2" x2="166.6" y2="138.2" stroke="#e82424" stroke-width="1.05"/>
<line x1="180.9" y1="139.1" x2="186.1" y2="139.1" stroke="#e82424" stroke-width="1.05"/>
<line x1="193.0" y1="139.7" x2="198.2" y2="139.7" stroke="#e82424" stroke-width="1.05"/>
<line x1="167.9" y1="141.0" x2="173.1" y2="141.0" stroke="#e82424" stroke-width="1.05"/>
<line x1="184.7" y1="141.9" x2="189.9" y2="141.9" stroke="#e82424" stroke-width="1.05"/>
<line x1="162.3" y1="142.9" x2="167.5" y2="142.9" stroke="#e82424" stroke-width="1.05"/>
<line x1="171.6" y1="143.8" x2="176.8" y2="143.8" stroke="#e82424" stroke-width="1.05"/>
<line x1="177.2" y1="144.7" x2="182.4" y2="144.7" stroke="#e82424" stroke-width="1.05"/>
<line x1="188.4" y1="144.7" x2="193.6" y2="144.7" stroke="#e82424" stroke-width="1.05"/>
<line x1="165.1" y1="146.6" x2="170.3" y2="146.6" stroke="#e82424" stroke-width="1.05"/>
<line x1="180.9" y1="147.5" x2="186.1" y2="147.5" stroke="#e82424" stroke-width="1.05"/>
<line x1="170.7" y1="148.1" x2="175.9" y2="148.1" stroke="#e82424" stroke-width="1.05"/>
<line x1="186.5" y1="149.4" x2="191.7" y2="149.4" stroke="#e82424" stroke-width="1.05"/>
<line x1="194.9" y1="152.2" x2="200.1" y2="152.2" stroke="#e82424" stroke-width="1.05"/>
<line x1="194.0" y1="154.4" x2="199.2" y2="154.4" stroke="#e82424" stroke-width="1.05"/>
<line x1="161.4" y1="154.0" x2="166.6" y2="154.0" stroke="#e82424" stroke-width="1.05"/>
<line x1="166.0" y1="155.0" x2="171.2" y2="155.0" stroke="#e82424" stroke-width="1.05"/>
<line x1="181.9" y1="156.8" x2="187.1" y2="156.8" stroke="#e82424" stroke-width="1.05"/>
<line x1="169.5" y1="129.3" x2="174.7" y2="129.3" stroke="#e82424" stroke-width="1.05"/>
<line x1="135.4" y1="142.7" x2="140.6" y2="142.7" stroke="#e82424" stroke-width="1.05"/>
<line x1="147.8" y1="139.3" x2="153.0" y2="139.3" stroke="#e82424" stroke-width="1.05"/>
<line x1="155.5" y1="141.6" x2="160.7" y2="141.6" stroke="#e82424" stroke-width="1.05"/>
<line x1="183.5" y1="130.8" x2="188.7" y2="130.8" stroke="#e82424" stroke-width="1.05"/>
<line x1="178.8" y1="133.9" x2="184.0" y2="133.9" stroke="#e82424" stroke-width="1.05"/>
<line x1="167.9" y1="143.2" x2="173.1" y2="143.2" stroke="#e82424" stroke-width="1.05"/>
<line x1="181.1" y1="141.6" x2="186.3" y2="141.6" stroke="#e82424" stroke-width="1.05"/>
<line x1="171.0" y1="145.5" x2="176.2" y2="145.5" stroke="#e82424" stroke-width="1.05"/>
<line x1="172.6" y1="149.4" x2="177.8" y2="149.4" stroke="#e82424" stroke-width="1.05"/>
<line x1="159.4" y1="154.1" x2="164.6" y2="154.1" stroke="#e82424" stroke-width="1.05"/>
<line x1="164.0" y1="153.3" x2="169.2" y2="153.3" stroke="#e82424" stroke-width="1.05"/>
<line x1="171.0" y1="154.1" x2="176.2" y2="154.1" stroke="#e82424" stroke-width="1.05"/>
<line x1="194.3" y1="156.4" x2="199.5" y2="156.4" stroke="#e82424" stroke-width="1.05"/>
<line x1="185.8" y1="158.0" x2="191.0" y2="158.0" stroke="#e82424" stroke-width="1.05"/>
<line x1="181.9" y1="160.3" x2="187.1" y2="160.3" stroke="#e82424" stroke-width="1.05"/>
<line x1="182.7" y1="162.6" x2="187.9" y2="162.6" stroke="#e82424" stroke-width="1.05"/>
<line x1="174.9" y1="165.7" x2="180.1" y2="165.7" stroke="#e82424" stroke-width="1.05"/>
<line x1="200.5" y1="162.6" x2="205.7" y2="162.6" stroke="#e82424" stroke-width="1.05"/>
<line x1="164.8" y1="168.0" x2="170.0" y2="168.0" stroke="#e82424" stroke-width="1.05"/>
<line x1="169.5" y1="171.1" x2="174.7" y2="171.1" stroke="#e82424" stroke-width="1.05"/>
<line x1="173.4" y1="173.5" x2="178.6" y2="173.5" stroke="#e82424" stroke-width="1.05"/>
<line x1="196.7" y1="169.6" x2="201.9" y2="169.6" stroke="#e82424" stroke-width="1.05"/>
<line x1="164.0" y1="176.3" x2="169.2" y2="176.3" stroke="#e82424" stroke-width="1.05"/>
<line x1="169.5" y1="175.8" x2="174.7" y2="175.8" stroke="#e82424" stroke-width="1.05"/>
<line x1="185.0" y1="176.3" x2="190.2" y2="176.3" stroke="#e82424" stroke-width="1.05"/>
<line x1="189.7" y1="179.4" x2="194.9" y2="179.4" stroke="#e82424" stroke-width="1.05"/>
<line x1="167.2" y1="192.9" x2="172.4" y2="192.9" stroke="#e82424" stroke-width="1.05"/>
<line x1="166.1" y1="194.9" x2="171.3" y2="194.9" stroke="#e82424" stroke-width="1.05"/>
<line x1="180.0" y1="198.3" x2="185.2" y2="198.3" stroke="#e82424" stroke-width="1.05"/>
<line x1="185.8" y1="197.5" x2="191.0" y2="197.5" stroke="#e82424" stroke-width="1.05"/>
<line x1="184.2" y1="203.0" x2="189.4" y2="203.0" stroke="#e82424" stroke-width="1.05"/>
<line x1="172.6" y1="210.7" x2="177.8" y2="210.7" stroke="#e82424" stroke-width="1.05"/>
<line x1="180.2" y1="227.9" x2="185.4" y2="227.9" stroke="#e82424" stroke-width="1.05"/>
<line x1="179.2" y1="231.1" x2="184.4" y2="231.1" stroke="#e82424" stroke-width="1.05"/>
<line x1="188.4" y1="232.4" x2="193.6" y2="232.4" stroke="#e82424" stroke-width="1.05"/>
<line x1="170.3" y1="239.8" x2="175.5" y2="239.8" stroke="#e82424" stroke-width="1.05"/>
<line x1="192.4" y1="132.5" x2="197.6" y2="132.5" stroke="#e82424" stroke-width="1.05"/>
<path d="M277.1,96.0h4.6M279.4,93.7v4.6" stroke="#000" stroke-width="1"/>
<path d="M278.0,108.7h4.6M280.3,106.4v4.6" stroke="#000" stroke-width="1"/>
<path d="M290.8,108.2h4.6M293.1,105.9v4.6" stroke="#000" stroke-width="1"/>
<path d="M294.2,109.3h4.6M296.5,107.0v4.6" stroke="#000" stroke-width="1"/>
<path d="M296.7,110.5h4.6M299.0,108.2v4.6" stroke="#000" stroke-width="1"/>
<path d="M302.9,109.3h4.6M305.2,107.0v4.6" stroke="#000" stroke-width="1"/>
<path d="M286.1,112.1h4.6M288.4,109.8v4.6" stroke="#000" stroke-width="1"/>
<path d="M288.4,114.4h4.6M290.7,112.1v4.6" stroke="#000" stroke-width="1"/>
<path d="M298.2,113.6h4.6M300.5,111.3v4.6" stroke="#000" stroke-width="1"/>
<path d="M291.5,116.0h4.6M293.8,113.7v4.6" stroke="#000" stroke-width="1"/>
<path d="M287.7,118.3h4.6M290.0,116.0v4.6" stroke="#000" stroke-width="1"/>
<path d="M295.4,118.3h4.6M297.7,116.0v4.6" stroke="#000" stroke-width="1"/>
<path d="M300.1,120.0h4.6M302.4,117.7v4.6" stroke="#000" stroke-width="1"/>
<path d="M278.3,121.4h4.6M280.6,119.1v4.6" stroke="#000" stroke-width="1"/>
<path d="M281.4,122.2h4.6M283.7,119.9v4.6" stroke="#000" stroke-width="1"/>
<path d="M287.7,120.6h4.6M290.0,118.3v4.6" stroke="#000" stroke-width="1"/>
<path d="M290.8,122.2h4.6M293.1,119.9v4.6" stroke="#000" stroke-width="1"/>
<path d="M297.0,123.0h4.6M299.3,120.7v4.6" stroke="#000" stroke-width="1"/>
<path d="M303.2,123.7h4.6M305.5,121.4v4.6" stroke="#000" stroke-width="1"/>
<path d="M306.3,126.1h4.6M308.6,123.8v4.6" stroke="#000" stroke-width="1"/>
<path d="M292.3,126.1h4.6M294.6,123.8v4.6" stroke="#000" stroke-width="1"/>
<path d="M300.8,126.8h4.6M303.1,124.5v4.6" stroke="#000" stroke-width="1"/>
<path d="M283.0,130.0h4.6M285.3,127.7v4.6" stroke="#000" stroke-width="1"/>
<path d="M289.2,129.2h4.6M291.5,126.9v4.6" stroke="#000" stroke-width="1"/>
<path d="M293.9,130.7h4.6M296.2,128.4v4.6" stroke="#000" stroke-width="1"/>
<path d="M300.1,130.0h4.6M302.4,127.7v4.6" stroke="#000" stroke-width="1"/>
<path d="M304.7,130.7h4.6M307.0,128.4v4.6" stroke="#000" stroke-width="1"/>
<path d="M271.3,135.4h4.6M273.6,133.1v4.6" stroke="#000" stroke-width="1"/>
<path d="M275.2,135.7h4.6M277.5,133.4v4.6" stroke="#000" stroke-width="1"/>
<path d="M284.5,135.7h4.6M286.8,133.4v4.6" stroke="#000" stroke-width="1"/>
<path d="M290.8,134.6h4.6M293.1,132.3v4.6" stroke="#000" stroke-width="1"/>
<path d="M295.4,135.4h4.6M297.7,133.1v4.6" stroke="#000" stroke-width="1"/>
<path d="M301.6,134.6h4.6M303.9,132.3v4.6" stroke="#000" stroke-width="1"/>
<path d="M306.3,136.1h4.6M308.6,133.8v4.6" stroke="#000" stroke-width="1"/>
<path d="M281.4,140.0h4.6M283.7,137.7v4.6" stroke="#000" stroke-width="1"/>
<path d="M286.9,137.7h4.6M289.2,135.4v4.6" stroke="#000" stroke-width="1"/>
<path d="M293.1,138.5h4.6M295.4,136.2v4.6" stroke="#000" stroke-width="1"/>
<path d="M298.5,140.0h4.6M300.8,137.7v4.6" stroke="#000" stroke-width="1"/>
<path d="M304.0,139.3h4.6M306.3,137.0v4.6" stroke="#000" stroke-width="1"/>
<path d="M278.3,142.4h4.6M280.6,140.1v4.6" stroke="#000" stroke-width="1"/>
<path d="M283.8,143.1h4.6M286.1,140.8v4.6" stroke="#000" stroke-width="1"/>
<path d="M290.8,142.4h4.6M293.1,140.1v4.6" stroke="#000" stroke-width="1"/>
<path d="M297.0,143.1h4.6M299.3,140.8v4.6" stroke="#000" stroke-width="1"/>
<path d="M303.2,143.1h4.6M305.5,140.8v4.6" stroke="#000" stroke-width="1"/>
<path d="M307.8,142.4h4.6M310.1,140.1v4.6" stroke="#000" stroke-width="1"/>
<path d="M309.3,127.6h4.6M311.6,125.3v4.6" stroke="#000" stroke-width="1"/>
<path d="M312.5,130.7h4.6M314.8,128.4v4.6" stroke="#000" stroke-width="1"/>
<path d="M304.7,128.4h4.6M307.0,126.1v4.6" stroke="#000" stroke-width="1"/>
<path d="M308.6,140.0h4.6M310.9,137.7v4.6" stroke="#000" stroke-width="1"/>
<path d="M313.2,140.8h4.6M315.5,138.5v4.6" stroke="#000" stroke-width="1"/>
<path d="M318.7,139.3h4.6M321.0,137.0v4.6" stroke="#000" stroke-width="1"/>
<path d="M321.0,141.6h4.6M323.3,139.3v4.6" stroke="#000" stroke-width="1"/>
<path d="M288.4,142.3h4.6M290.7,140.0v4.6" stroke="#000" stroke-width="1"/>
<path d="M292.3,140.8h4.6M294.6,138.5v4.6" stroke="#000" stroke-width="1"/>
<path d="M287.7,146.2h4.6M290.0,143.9v4.6" stroke="#000" stroke-width="1"/>
<path d="M295.4,146.2h4.6M297.7,143.9v4.6" stroke="#000" stroke-width="1"/>
<path d="M300.1,145.4h4.6M302.4,143.1v4.6" stroke="#000" stroke-width="1"/>
<path d="M306.3,146.2h4.6M308.6,143.9v4.6" stroke="#000" stroke-width="1"/>
<path d="M288.4,150.9h4.6M290.7,148.6v4.6" stroke="#000" stroke-width="1"/>
<path d="M290.0,149.3h4.6M292.3,147.0v4.6" stroke="#000" stroke-width="1"/>
<path d="M303.2,151.6h4.6M305.5,149.3v4.6" stroke="#000" stroke-width="1"/>
<path d="M306.3,152.4h4.6M308.6,150.1v4.6" stroke="#000" stroke-width="1"/>
<path d="M280.7,155.2h4.6M283.0,152.9v4.6" stroke="#000" stroke-width="1"/>
<path d="M288.9,157.5h4.6M291.2,155.2v4.6" stroke="#000" stroke-width="1"/>
<path d="M297.0,156.3h4.6M299.3,154.0v4.6" stroke="#000" stroke-width="1"/>
<path d="M299.3,159.4h4.6M301.6,157.1v4.6" stroke="#000" stroke-width="1"/>
<path d="M301.6,157.9h4.6M303.9,155.6v4.6" stroke="#000" stroke-width="1"/>
<path d="M307.8,161.0h4.6M310.1,158.7v4.6" stroke="#000" stroke-width="1"/>
<path d="M299.3,172.6h4.6M301.6,170.3v4.6" stroke="#000" stroke-width="1"/>
<path d="M304.7,175.4h4.6M307.0,173.1v4.6" stroke="#000" stroke-width="1"/>
<path d="M299.3,177.7h4.6M301.6,175.4v4.6" stroke="#000" stroke-width="1"/>
<path d="M308.6,170.3h4.6M310.9,168.0v4.6" stroke="#000" stroke-width="1"/>
<path d="M312.5,147.8h4.6M314.8,145.5v4.6" stroke="#000" stroke-width="1"/>
<path d="M314.8,148.1h4.6M317.1,145.8v4.6" stroke="#000" stroke-width="1"/>
<path d="M312.9,155.5h4.6M315.2,153.2v4.6" stroke="#000" stroke-width="1"/>
<path d="M318.7,155.5h4.6M321.0,153.2v4.6" stroke="#000" stroke-width="1"/>
<path d="M313.2,163.3h4.6M315.5,161.0v4.6" stroke="#000" stroke-width="1"/>
<path d="M317.9,162.5h4.6M320.2,160.2v4.6" stroke="#000" stroke-width="1"/>
<path d="M320.2,189.4h4.6M322.5,187.1v4.6" stroke="#000" stroke-width="1"/>
<path d="M310.4,170.2h4.6M312.7,167.9v4.6" stroke="#000" stroke-width="1"/>
<path d="M293.3,248.4h4.6M295.6,246.1v4.6" stroke="#000" stroke-width="1"/>
<path d="M305.7,255.4h4.6M308.0,253.1v4.6" stroke="#000" stroke-width="1"/>
<path d="M296.2,137.4h4.6M298.5,135.1v4.6" stroke="#000" stroke-width="1"/>
<path d="M294.4,126.7h4.6M296.7,124.4v4.6" stroke="#000" stroke-width="1"/>
<path d="M293.2,125.2h4.6M295.5,122.9v4.6" stroke="#000" stroke-width="1"/>
<path d="M296.6,146.0h4.6M298.9,143.7v4.6" stroke="#000" stroke-width="1"/>
<path d="M293.0,128.0h4.6M295.3,125.7v4.6" stroke="#000" stroke-width="1"/>
<path d="M299.4,139.9h4.6M301.7,137.6v4.6" stroke="#000" stroke-width="1"/>
<path d="M296.9,127.9h4.6M299.2,125.6v4.6" stroke="#000" stroke-width="1"/>
<path d="M296.0,140.5h4.6M298.3,138.2v4.6" stroke="#000" stroke-width="1"/>
<path d="M287.5,125.9h4.6M289.8,123.6v4.6" stroke="#000" stroke-width="1"/>
<path d="M283.8,116.9h4.6M286.1,114.6v4.6" stroke="#000" stroke-width="1"/>
<path d="M284.2,125.7h4.6M286.5,123.4v4.6" stroke="#000" stroke-width="1"/>
<path d="M288.0,132.0h4.6M290.3,129.7v4.6" stroke="#000" stroke-width="1"/>
<path d="M297.2,134.1h4.6M299.5,131.8v4.6" stroke="#000" stroke-width="1"/>
<path d="M279.8,120.5h4.6M282.1,118.2v4.6" stroke="#000" stroke-width="1"/>
<path d="M295.9,135.7h4.6M298.2,133.4v4.6" stroke="#000" stroke-width="1"/>
<path d="M286.3,125.0h4.6M288.6,122.7v4.6" stroke="#000" stroke-width="1"/>
<path d="M289.8,124.5h4.6M292.1,122.2v4.6" stroke="#000" stroke-width="1"/>
<path d="M303.1,132.8h4.6M305.4,130.5v4.6" stroke="#000" stroke-width="1"/>
<path d="M296.0,142.0h4.6M298.3,139.7v4.6" stroke="#000" stroke-width="1"/>
<path d="M292.4,131.7h4.6M294.7,129.4v4.6" stroke="#000" stroke-width="1"/>
<path d="M296.9,136.0h4.6M299.2,133.7v4.6" stroke="#000" stroke-width="1"/>
<path d="M288.2,130.7h4.6M290.5,128.4v4.6" stroke="#000" stroke-width="1"/>
<path d="M305.0,128.1h4.6M307.3,125.8v4.6" stroke="#000" stroke-width="1"/>
<path d="M301.8,139.4h4.6M304.1,137.1v4.6" stroke="#000" stroke-width="1"/>
<path d="M292.0,148.5h4.6M294.3,146.2v4.6" stroke="#000" stroke-width="1"/>
<path d="M301.2,128.4h4.6M303.5,126.1v4.6" stroke="#000" stroke-width="1"/>
<path d="M296.7,139.9h4.6M299.0,137.6v4.6" stroke="#000" stroke-width="1"/>
<path d="M295.0,139.7h4.6M297.3,137.4v4.6" stroke="#000" stroke-width="1"/>
<path d="M295.8,140.1h4.6M298.1,137.8v4.6" stroke="#000" stroke-width="1"/>
<path d="M305.6,135.4h4.6M307.9,133.1v4.6" stroke="#000" stroke-width="1"/>
<path d="M297.5,132.1h4.6M299.8,129.8v4.6" stroke="#000" stroke-width="1"/>
<path d="M297.0,126.0h4.6M299.3,123.7v4.6" stroke="#000" stroke-width="1"/>
<path d="M292.4,131.1h4.6M294.7,128.8v4.6" stroke="#000" stroke-width="1"/>
<path d="M302.0,147.8h4.6M304.3,145.5v4.6" stroke="#000" stroke-width="1"/>
<path d="M287.6,123.3h4.6M289.9,121.0v4.6" stroke="#000" stroke-width="1"/>
<path d="M300.4,121.6h4.6M302.7,119.3v4.6" stroke="#000" stroke-width="1"/>
<path d="M293.2,132.3h4.6M295.5,130.0v4.6" stroke="#000" stroke-width="1"/>
<path d="M304.4,145.6h4.6M306.7,143.3v4.6" stroke="#000" stroke-width="1"/>
<path d="M294.1,130.7h4.6M296.4,128.4v4.6" stroke="#000" stroke-width="1"/>
<path d="M294.6,146.2h4.6M296.9,143.9v4.6" stroke="#000" stroke-width="1"/>
<path d="M293.4,130.8h4.6M295.7,128.5v4.6" stroke="#000" stroke-width="1"/>
<path d="M298.5,135.5h4.6M300.8,133.2v4.6" stroke="#000" stroke-width="1"/>
<path d="M294.9,125.2h4.6M297.2,122.9v4.6" stroke="#000" stroke-width="1"/>
<path d="M296.1,131.4h4.6M298.4,129.1v4.6" stroke="#000" stroke-width="1"/>
<path d="M303.8,145.0h4.6M306.1,142.7v4.6" stroke="#000" stroke-width="1"/>
<path d="M296.0,140.3h4.6M298.3,138.0v4.6" stroke="#000" stroke-width="1"/>
<path d="M294.0,142.1h4.6M296.3,139.8v4.6" stroke="#000" stroke-width="1"/>
<path d="M296.2,139.7h4.6M298.5,137.4v4.6" stroke="#000" stroke-width="1"/>
<path d="M287.8,132.6h4.6M290.1,130.3v4.6" stroke="#000" stroke-width="1"/>
<path d="M294.2,126.5h4.6M296.5,124.2v4.6" stroke="#000" stroke-width="1"/>
<path d="M290.8,126.6h4.6M293.1,124.3v4.6" stroke="#000" stroke-width="1"/>
<path d="M297.5,139.8h4.6M299.8,137.5v4.6" stroke="#000" stroke-width="1"/>
<path d="M295.1,132.6h4.6M297.4,130.3v4.6" stroke="#000" stroke-width="1"/>
<path d="M300.8,142.0h4.6M303.1,139.7v4.6" stroke="#000" stroke-width="1"/>
<path d="M289.5,130.2h4.6M291.8,127.9v4.6" stroke="#000" stroke-width="1"/>
<path d="M389.90,264.40 L389.98,262.01 L390.07,259.62 L390.15,257.24 L390.23,254.84 L390.32,252.43 L390.40,250.00 L390.48,247.59 L390.57,245.23 L390.66,242.85 L390.74,240.39 L390.82,237.80 L390.90,235.00 L390.97,231.90 L391.04,228.52 L391.11,225.00 L391.18,221.48 L391.24,218.10 L391.30,215.00 L391.36,212.18 L391.41,209.52 L391.46,207.00 L391.50,204.59 L391.55,202.27 L391.60,200.00 L391.64,197.85 L391.67,195.86 L391.70,193.95 L391.74,192.05 L391.80,190.09 L391.90,188.00 L392.03,185.70 L392.19,183.25 L392.37,180.73 L392.57,178.25 L392.78,175.91 L393.00,173.80 L393.23,171.89 L393.47,170.08 L393.72,168.41 L393.98,166.91 L394.24,165.59 L394.50,164.50 L394.75,163.71 L395.00,163.21 L395.25,162.91 L395.51,162.70 L395.79,162.46 L396.10,162.10 L396.44,161.63 L396.81,161.14 L397.21,160.64 L397.61,160.11 L398.01,159.57 L398.40,159.00 L398.76,158.41 L399.11,157.79 L399.45,157.15 L399.81,156.50 L400.22,155.85 L400.70,155.20 L401.25,154.56 L401.85,153.91 L402.50,153.26 L403.18,152.60 L403.89,151.95 L404.60,151.30 L405.32,150.64 L406.05,149.97 L406.81,149.30 L407.59,148.64 L408.42,148.00 L409.30,147.40 L410.26,146.82 L411.30,146.24 L412.38,145.69 L413.47,145.18 L414.52,144.71 L415.50,144.30 L416.38,143.98 L417.17,143.75 L417.93,143.57 L418.71,143.39 L419.55,143.18 L420.50,142.90 L421.58,142.53 L422.75,142.11 L423.98,141.66 L425.25,141.19 L426.53,140.73 L427.80,140.30 L429.06,139.90 L430.33,139.51 L431.62,139.13 L432.91,138.76 L434.21,138.38 L435.50,138.00 L436.83,137.60 L438.21,137.19 L439.59,136.77 L440.93,136.37 L442.18,136.01 L443.30,135.70 L444.23,135.47 L444.99,135.30 L445.66,135.17 L446.33,135.04 L447.08,134.90 L448.00,134.70 L449.11,134.45 L450.34,134.18 L451.66,133.89 L453.01,133.57 L454.38,133.24 L455.70,132.90 L457.03,132.52 L458.41,132.11 L459.80,131.68 L461.14,131.26 L462.39,130.85 L463.50,130.50 L464.42,130.21 L465.17,129.97 L465.84,129.76 L466.48,129.55 L467.18,129.30 L468.00,129.00 L468.93,128.64 L469.92,128.24 L470.96,127.82 L472.05,127.37 L473.20,126.89 L474.40,126.40 L475.70,125.88 L477.10,125.31 L478.56,124.73 L480.03,124.14 L481.46,123.56 L482.80,123.00 L484.06,122.47 L485.27,121.95 L486.44,121.44 L487.58,120.93 L488.70,120.42 L489.80,119.90 L490.90,119.38 L492.00,118.85 L493.08,118.33 L494.11,117.79 L495.09,117.25 L496.00,116.70 L496.84,116.13 L497.61,115.56 L498.34,114.97 L499.01,114.38 L499.63,113.79 L500.20,113.20 L500.72,112.65 L501.17,112.14 L501.58,111.62 L501.94,111.07 L502.28,110.45 L502.60,109.70 L502.89,108.80 L503.15,107.78 L503.38,106.68 L503.59,105.55 L503.80,104.44 L504.00,103.40 L504.21,102.42 L504.40,101.45 L504.59,100.51 L504.77,99.58 L504.94,98.68 L505.10,97.80 L505.24,97.05 L505.37,96.44 L505.49,95.86 L505.60,95.18 L505.71,94.27 L505.80,93.00 L505.89,91.36 L505.97,89.44 L506.04,87.29 L506.10,84.97 L506.15,82.52 L506.20,80.00 L506.23,77.34 L506.26,74.50 L506.27,71.53 L506.28,68.50 L506.29,65.47 L506.30,62.50" fill="none" stroke="#000" stroke-width="1.5" stroke-linejoin="round"/>
<path d="M390.20,245.00 L390.42,243.33 L390.64,241.67 L390.87,240.00 L391.09,238.33 L391.30,236.67 L391.50,235.00 L391.69,233.39 L391.86,231.85 L392.02,230.31 L392.19,228.70 L392.34,226.96 L392.50,225.00 L392.66,222.66 L392.81,219.94 L392.96,217.09 L393.10,214.33 L393.25,211.89 L393.40,210.00 L393.55,208.81 L393.70,208.16 L393.85,207.84 L394.00,207.61 L394.15,207.28 L394.30,206.60 L394.43,205.53 L394.55,204.23 L394.66,202.81 L394.80,201.39 L394.97,200.08 L395.20,199.00 L395.51,198.16 L395.89,197.47 L396.31,196.89 L396.74,196.40 L397.15,195.94 L397.50,195.50 L397.80,195.08 L398.07,194.71 L398.31,194.39 L398.54,194.10 L398.77,193.84 L399.00,193.60 L399.24,193.47 L399.50,193.48 L399.74,193.51 L399.97,193.47 L400.16,193.23 L400.30,192.70 L400.37,191.81 L400.38,190.65 L400.36,189.30 L400.32,187.85 L400.29,186.39 L400.30,185.00 L400.33,183.60 L400.36,182.09 L400.40,180.57 L400.46,179.13 L400.56,177.88 L400.70,176.90 L400.89,176.29 L401.12,176.00 L401.38,175.88 L401.67,175.81 L401.98,175.67 L402.30,175.30 L402.64,174.69 L403.01,173.93 L403.41,173.09 L403.81,172.23 L404.21,171.41 L404.60,170.70 L404.99,170.09 L405.39,169.53 L405.79,169.01 L406.19,168.53 L406.56,168.06 L406.90,167.60 L407.18,167.18 L407.40,166.80 L407.60,166.44 L407.82,166.08 L408.11,165.67 L408.50,165.20 L409.01,164.65 L409.60,164.04 L410.26,163.39 L410.96,162.73 L411.68,162.06 L412.40,161.40 L413.14,160.74 L413.94,160.05 L414.76,159.36 L415.56,158.69 L416.32,158.06 L417.00,157.50 L417.56,157.01 L418.00,156.58 L418.40,156.19 L418.82,155.82 L419.33,155.47 L420.00,155.10 L420.87,154.73 L421.89,154.37 L422.99,154.02 L424.13,153.68 L425.22,153.34 L426.20,153.00 L427.08,152.68 L427.91,152.39 L428.69,152.10 L429.45,151.79 L430.18,151.43 L430.90,151.00 L431.58,150.48 L432.20,149.89 L432.81,149.25 L433.42,148.59 L434.07,147.93 L434.80,147.30 L435.59,146.68 L436.43,146.03 L437.31,145.39 L438.23,144.78 L439.19,144.21 L440.20,143.70 L441.32,143.28 L442.56,142.94 L443.84,142.64 L445.10,142.35 L446.24,142.05 L447.20,141.70 L447.90,141.29 L448.38,140.85 L448.75,140.39 L449.12,139.94 L449.60,139.50 L450.30,139.10 L451.27,138.75 L452.43,138.43 L453.71,138.13 L455.00,137.84 L456.23,137.53 L457.30,137.20 L458.20,136.83 L459.01,136.44 L459.74,136.03 L460.45,135.63 L461.16,135.25 L461.90,134.90 L462.67,134.60 L463.45,134.33 L464.22,134.08 L465.01,133.84 L465.80,133.58 L466.60,133.30 L467.42,132.97 L468.25,132.61 L469.09,132.24 L469.93,131.89 L470.77,131.56 L471.60,131.30 L472.44,131.12 L473.29,131.02 L474.14,130.96 L474.97,130.89 L475.77,130.78 L476.50,130.60 L477.17,130.33 L477.80,129.99 L478.38,129.61 L478.94,129.21 L479.47,128.84 L480.00,128.50 L480.47,128.20 L480.88,127.92 L481.27,127.66 L481.69,127.40 L482.18,127.15 L482.80,126.90 L483.59,126.66 L484.51,126.42 L485.51,126.19 L486.53,125.96 L487.52,125.73 L488.40,125.50 L489.21,125.30 L489.99,125.13 L490.72,124.96 L491.41,124.75 L492.04,124.48 L492.60,124.10 L493.05,123.57 L493.40,122.92 L493.69,122.19 L493.96,121.46 L494.25,120.77 L494.60,120.20 L495.00,119.74 L495.40,119.34 L495.82,118.99 L496.28,118.68 L496.80,118.39 L497.40,118.10 L498.14,117.85 L499.03,117.66 L499.98,117.49 L500.90,117.30 L501.70,117.05 L502.30,116.70 L502.66,116.25 L502.85,115.71 L502.93,115.13 L502.94,114.50 L502.94,113.85 L503.00,113.20 L503.09,112.60 L503.16,112.03 L503.23,111.44 L503.30,110.78 L503.39,109.99 L503.50,109.00 L503.64,107.75 L503.80,106.28 L503.97,104.67 L504.15,103.03 L504.33,101.44 L504.50,100.00 L504.67,98.72 L504.83,97.52 L505.00,96.38 L505.17,95.26 L505.33,94.14 L505.50,93.00" fill="none" stroke="#ff0000" stroke-width="1.5" stroke-linejoin="round"/>
<path d="M391.00,248.00 L391.24,246.64 L391.50,245.24 L391.76,243.84 L392.01,242.48 L392.22,241.19 L392.40,240.00 L392.52,239.02 L392.60,238.24 L392.66,237.53 L392.70,236.76 L392.74,235.79 L392.80,234.50 L392.88,232.79 L392.96,230.76 L393.05,228.53 L393.14,226.24 L393.22,224.02 L393.30,222.00 L393.37,220.11 L393.43,218.24 L393.49,216.44 L393.56,214.76 L393.62,213.26 L393.70,212.00 L393.77,211.04 L393.84,210.36 L393.91,209.86 L394.00,209.44 L394.12,209.02 L394.30,208.50 L394.54,207.93 L394.82,207.40 L395.14,206.86 L395.49,206.27 L395.85,205.60 L396.20,204.80 L396.56,203.85 L396.94,202.77 L397.32,201.61 L397.72,200.40 L398.11,199.18 L398.50,198.00 L398.90,196.83 L399.33,195.64 L399.75,194.45 L400.15,193.27 L400.51,192.11 L400.80,191.00 L401.01,189.92 L401.15,188.86 L401.24,187.83 L401.32,186.84 L401.40,185.89 L401.50,185.00 L401.60,184.19 L401.67,183.45 L401.75,182.76 L401.86,182.09 L402.03,181.41 L402.30,180.70 L402.69,179.98 L403.19,179.28 L403.76,178.57 L404.34,177.82 L404.90,177.01 L405.40,176.10 L405.84,175.04 L406.25,173.86 L406.64,172.60 L407.01,171.34 L407.37,170.16 L407.70,169.10 L407.98,168.18 L408.20,167.33 L408.41,166.56 L408.63,165.83 L408.91,165.15 L409.30,164.50 L409.80,163.90 L410.40,163.36 L411.06,162.86 L411.74,162.38 L412.44,161.90 L413.10,161.40 L413.75,160.87 L414.43,160.31 L415.10,159.76 L415.76,159.23 L416.40,158.74 L417.00,158.30 L417.52,157.94 L417.95,157.66 L418.36,157.41 L418.80,157.17 L419.33,156.91 L420.00,156.60 L420.87,156.22 L421.89,155.81 L422.99,155.37 L424.13,154.93 L425.22,154.50 L426.20,154.10 L427.07,153.72 L427.88,153.35 L428.65,152.99 L429.40,152.65 L430.14,152.32 L430.90,152.00 L431.70,151.71 L432.52,151.46 L433.34,151.22 L434.13,150.98 L434.86,150.71 L435.50,150.40 L436.00,150.03 L436.38,149.62 L436.70,149.19 L437.02,148.74 L437.40,148.31 L437.90,147.90 L438.53,147.52 L439.24,147.16 L440.01,146.81 L440.82,146.46 L441.66,146.09 L442.50,145.70 L443.38,145.26 L444.30,144.79 L445.25,144.29 L446.20,143.81 L447.13,143.37 L448.00,143.00 L448.82,142.70 L449.60,142.46 L450.35,142.25 L451.09,142.07 L451.84,141.89 L452.60,141.70 L453.38,141.53 L454.16,141.39 L454.95,141.26 L455.74,141.11 L456.52,140.90 L457.30,140.60 L458.07,140.19 L458.84,139.69 L459.60,139.12 L460.36,138.55 L461.13,137.99 L461.90,137.50 L462.66,137.06 L463.40,136.64 L464.14,136.24 L464.90,135.87 L465.72,135.52 L466.60,135.20 L467.56,134.91 L468.59,134.66 L469.66,134.44 L470.76,134.23 L471.88,134.02 L473.00,133.80 L474.16,133.58 L475.39,133.36 L476.64,133.14 L477.85,132.92 L478.99,132.71 L480.00,132.50 L480.86,132.31 L481.61,132.15 L482.28,131.99 L482.90,131.81 L483.53,131.59 L484.20,131.30 L484.89,130.92 L485.58,130.47 L486.26,129.98 L486.96,129.47 L487.67,128.97 L488.40,128.50 L489.20,128.07 L490.06,127.66 L490.93,127.26 L491.78,126.86 L492.55,126.44 L493.20,126.00 L493.71,125.52 L494.13,125.00 L494.46,124.48 L494.75,123.95 L495.02,123.45 L495.30,123.00 L495.52,122.60 L495.64,122.24 L495.74,121.91 L495.90,121.59 L496.19,121.26 L496.70,120.90 L497.53,120.49 L498.64,120.05 L499.89,119.59 L501.13,119.16 L502.22,118.79 L503.00,118.50 L503.43,118.48 L503.62,118.75 L503.66,119.07 L503.62,119.22 L503.61,118.97 L503.70,118.10 L503.90,116.40 L504.13,114.02 L504.38,111.24 L504.63,108.36 L504.88,105.65 L505.10,103.40 L505.30,101.65 L505.49,100.16 L505.67,98.85 L505.84,97.63 L506.02,96.41 L506.20,95.10" fill="none" stroke="#0000ff" stroke-width="1.5" stroke-linejoin="round"/>
<path d="M556.50,249.00 L556.63,246.68 L556.76,244.37 L556.89,242.06 L557.03,239.74 L557.16,237.39 L557.30,235.00 L557.44,232.62 L557.59,230.26 L557.74,227.88 L557.90,225.41 L558.05,222.80 L558.20,220.00 L558.35,216.84 L558.51,213.33 L558.66,209.69 L558.81,206.11 L558.96,202.81 L559.10,200.00 L559.23,197.75 L559.35,195.91 L559.46,194.36 L559.57,192.94 L559.69,191.53 L559.80,190.00 L559.91,188.36 L560.02,186.73 L560.12,185.11 L560.24,183.49 L560.36,181.89 L560.50,180.30 L560.65,178.71 L560.80,177.11 L560.97,175.53 L561.15,173.97 L561.36,172.45 L561.60,171.00 L561.87,169.61 L562.16,168.26 L562.48,166.96 L562.82,165.70 L563.19,164.48 L563.60,163.30 L564.03,162.17 L564.49,161.10 L564.98,160.06 L565.51,159.06 L566.08,158.08 L566.70,157.10 L567.38,156.12 L568.12,155.15 L568.91,154.20 L569.72,153.28 L570.56,152.41 L571.40,151.60 L572.25,150.86 L573.12,150.18 L574.01,149.55 L574.91,148.95 L575.85,148.37 L576.80,147.80 L577.77,147.24 L578.75,146.70 L579.75,146.19 L580.79,145.69 L581.86,145.19 L583.00,144.70 L584.19,144.23 L585.41,143.79 L586.68,143.35 L588.00,142.90 L589.37,142.43 L590.80,141.90 L592.33,141.29 L593.96,140.61 L595.65,139.90 L597.34,139.20 L598.97,138.55 L600.50,138.00 L601.94,137.55 L603.33,137.18 L604.67,136.86 L605.95,136.57 L607.16,136.29 L608.30,136.00 L609.30,135.72 L610.16,135.47 L610.95,135.24 L611.75,134.99 L612.64,134.72 L613.70,134.40 L614.96,134.02 L616.36,133.60 L617.86,133.16 L619.38,132.70 L620.88,132.24 L622.30,131.80 L623.60,131.39 L624.83,131.00 L626.04,130.62 L627.27,130.22 L628.57,129.78 L630.00,129.30 L631.60,128.74 L633.34,128.10 L635.16,127.44 L636.98,126.77 L638.75,126.15 L640.40,125.60 L641.92,125.14 L643.35,124.73 L644.72,124.36 L646.07,124.01 L647.42,123.67 L648.80,123.30 L650.24,122.92 L651.73,122.54 L653.23,122.16 L654.67,121.77 L656.01,121.39 L657.20,121.00 L658.22,120.63 L659.09,120.27 L659.86,119.91 L660.58,119.53 L661.28,119.10 L662.00,118.60 L662.75,118.02 L663.50,117.39 L664.23,116.71 L664.93,115.99 L665.59,115.25 L666.20,114.50 L666.76,113.75 L667.26,113.00 L667.73,112.23 L668.17,111.42 L668.59,110.55 L669.00,109.60 L669.40,108.55 L669.79,107.42 L670.16,106.23 L670.50,105.01 L670.82,103.79 L671.10,102.60 L671.35,101.42 L671.56,100.21 L671.74,99.01 L671.91,97.83 L672.06,96.69 L672.20,95.60 L672.34,94.84 L672.46,94.44 L672.57,94.07 L672.66,93.43 L672.74,92.18 L672.80,90.00 L672.83,86.69 L672.84,82.48 L672.84,77.66 L672.82,72.54 L672.81,67.42 L672.80,62.60" fill="none" stroke="#000" stroke-width="1.55" stroke-linejoin="round" stroke-dasharray="6 4" stroke-dashoffset="5.84"/>
<path d="M556.50,255.00 L556.67,251.67 L556.83,248.33 L557.00,245.00 L557.17,241.67 L557.33,238.33 L557.50,235.00 L557.67,231.61 L557.84,228.15 L558.01,224.69 L558.18,221.30 L558.34,218.04 L558.50,215.00 L558.64,212.15 L558.78,209.44 L558.91,206.88 L559.04,204.44 L559.17,202.15 L559.30,200.00 L559.43,198.06 L559.55,196.34 L559.67,194.76 L559.80,193.24 L559.94,191.68 L560.10,190.00 L560.26,188.18 L560.43,186.29 L560.61,184.36 L560.80,182.44 L561.03,180.57 L561.30,178.80 L561.60,177.12 L561.93,175.50 L562.28,173.94 L562.67,172.42 L563.11,170.94 L563.60,169.50 L564.15,168.08 L564.75,166.67 L565.40,165.31 L566.08,164.01 L566.79,162.80 L567.50,161.70 L568.22,160.74 L568.95,159.90 L569.71,159.16 L570.49,158.46 L571.32,157.79 L572.20,157.10 L573.14,156.39 L574.15,155.69 L575.19,155.01 L576.26,154.36 L577.34,153.75 L578.40,153.20 L579.46,152.73 L580.52,152.32 L581.59,151.96 L582.66,151.62 L583.73,151.28 L584.80,150.90 L585.87,150.49 L586.94,150.07 L588.01,149.65 L589.08,149.23 L590.14,148.81 L591.20,148.40 L592.21,148.02 L593.17,147.66 L594.12,147.31 L595.11,146.95 L596.19,146.55 L597.40,146.10 L598.79,145.58 L600.33,145.01 L601.95,144.40 L603.60,143.78 L605.20,143.17 L606.70,142.60 L608.09,142.05 L609.41,141.50 L610.69,140.96 L611.96,140.44 L613.22,139.95 L614.50,139.50 L615.82,139.11 L617.16,138.76 L618.50,138.45 L619.82,138.15 L621.09,137.84 L622.30,137.50 L623.45,137.14 L624.55,136.77 L625.61,136.39 L626.62,136.00 L627.58,135.60 L628.50,135.20 L629.31,134.79 L630.02,134.39 L630.67,133.97 L631.35,133.54 L632.10,133.09 L633.00,132.60 L634.05,132.06 L635.21,131.47 L636.46,130.86 L637.75,130.25 L639.08,129.65 L640.40,129.10 L641.76,128.59 L643.18,128.10 L644.62,127.64 L646.07,127.19 L647.47,126.74 L648.80,126.30 L650.07,125.89 L651.29,125.52 L652.48,125.16 L653.63,124.77 L654.74,124.33 L655.80,123.80 L656.82,123.16 L657.79,122.43 L658.72,121.65 L659.62,120.84 L660.48,120.05 L661.30,119.30 L662.09,118.61 L662.86,117.96 L663.58,117.32 L664.27,116.66 L664.91,115.97 L665.50,115.20 L666.03,114.37 L666.51,113.50 L666.94,112.58 L667.34,111.63 L667.73,110.63 L668.10,109.60 L668.46,108.51 L668.80,107.37 L669.13,106.19 L669.43,104.99 L669.72,103.78 L670.00,102.60 L670.27,101.38 L670.54,100.11 L670.79,98.84 L671.03,97.62 L671.23,96.52 L671.40,95.60 L671.52,94.89 L671.61,94.36 L671.66,93.94 L671.70,93.58 L671.74,93.22 L671.80,92.80" fill="none" stroke="#ff0000" stroke-width="1.55" stroke-linejoin="round" stroke-dasharray="6 4" stroke-dashoffset="4.45"/>
<path d="M556.50,259.00 L556.63,255.84 L556.76,252.70 L556.89,249.56 L557.02,246.41 L557.16,243.22 L557.30,240.00 L557.45,236.72 L557.61,233.41 L557.77,230.06 L557.94,226.70 L558.12,223.34 L558.30,220.00 L558.49,216.55 L558.69,212.96 L558.90,209.38 L559.11,205.93 L559.31,202.75 L559.50,200.00 L559.66,197.75 L559.80,195.91 L559.92,194.36 L560.07,192.94 L560.25,191.53 L560.50,190.00 L560.81,188.36 L561.17,186.73 L561.57,185.11 L562.00,183.49 L562.44,181.89 L562.90,180.30 L563.37,178.71 L563.86,177.11 L564.36,175.53 L564.89,173.97 L565.43,172.45 L566.00,171.00 L566.57,169.60 L567.15,168.23 L567.75,166.91 L568.38,165.64 L569.06,164.44 L569.80,163.30 L570.59,162.24 L571.43,161.24 L572.31,160.31 L573.24,159.43 L574.24,158.59 L575.30,157.80 L576.45,157.07 L577.69,156.40 L578.98,155.78 L580.31,155.19 L581.66,154.60 L583.00,154.00 L584.34,153.37 L585.71,152.73 L587.09,152.09 L588.48,151.47 L589.85,150.91 L591.20,150.40 L592.51,150.00 L593.77,149.69 L595.03,149.42 L596.30,149.15 L597.62,148.82 L599.00,148.40 L600.50,147.85 L602.10,147.22 L603.75,146.54 L605.37,145.83 L606.91,145.14 L608.30,144.50 L609.49,143.88 L610.54,143.26 L611.49,142.66 L612.43,142.08 L613.41,141.56 L614.50,141.10 L615.71,140.74 L616.99,140.46 L618.31,140.23 L619.65,140.02 L620.99,139.79 L622.30,139.50 L623.64,139.15 L625.05,138.77 L626.45,138.37 L627.79,137.96 L628.99,137.57 L630.00,137.20 L630.72,136.89 L631.19,136.62 L631.52,136.36 L631.85,136.08 L632.30,135.74 L633.00,135.30 L633.97,134.73 L635.10,134.06 L636.36,133.33 L637.70,132.58 L639.06,131.86 L640.40,131.20 L641.74,130.62 L643.13,130.09 L644.54,129.58 L645.96,129.08 L647.39,128.56 L648.80,128.00 L650.23,127.41 L651.71,126.79 L653.18,126.16 L654.61,125.52 L655.97,124.86 L657.20,124.20 L658.30,123.52 L659.30,122.83 L660.21,122.12 L661.07,121.41 L661.89,120.70 L662.70,120.00 L663.49,119.32 L664.25,118.66 L664.97,117.99 L665.65,117.32 L666.30,116.63 L666.90,115.90 L667.46,115.14 L667.98,114.35 L668.46,113.54 L668.90,112.71 L669.31,111.87 L669.70,111.00 L670.06,110.09 L670.38,109.13 L670.68,108.16 L670.94,107.19 L671.18,106.26 L671.40,105.40 L671.59,104.60 L671.76,103.84 L671.89,103.12 L672.01,102.44 L672.11,101.80 L672.20,101.20 L672.27,100.66 L672.31,100.19 L672.34,99.76 L672.36,99.34 L672.37,98.93 L672.40,98.50" fill="none" stroke="#0000ff" stroke-width="1.55" stroke-linejoin="round" stroke-dasharray="6 4" stroke-dashoffset="2.15"/>
<line x1="448.5" y1="62.5" x2="448.5" y2="287.5" stroke="#cfcfcf" stroke-width="1.5"/>
<line x1="506.5" y1="62.5" x2="506.5" y2="287.5" stroke="#cfcfcf" stroke-width="1.5"/>
<line x1="614.0" y1="62.5" x2="614.0" y2="287.5" stroke="#cfcfcf" stroke-width="1.5"/>
<line x1="672.0" y1="62.5" x2="672.0" y2="287.5" stroke="#cfcfcf" stroke-width="1.5"/>
<line x1="34.5" y1="62.0" x2="34.5" y2="288.0" stroke="#444" stroke-width="1"/>
<line x1="30.5" y1="287.5" x2="34.5" y2="287.5" stroke="#444" stroke-width="1"/>
<text x="26.3" y="291.5" font-size="11" text-anchor="end" font-family="Liberation Sans, sans-serif">0</text>
<line x1="32.5" y1="265.0" x2="34.5" y2="265.0" stroke="#444" stroke-width="1"/>
<line x1="30.5" y1="242.5" x2="34.5" y2="242.5" stroke="#444" stroke-width="1"/>
<text x="26.3" y="246.5" font-size="11" text-anchor="end" font-family="Liberation Sans, sans-serif">1</text>
<line x1="32.5" y1="220.0" x2="34.5" y2="220.0" stroke="#444" stroke-width="1"/>
<line x1="30.5" y1="197.5" x2="34.5" y2="197.5" stroke="#444" stroke-width="1"/>
<text x="26.3" y="201.5" font-size="11" text-anchor="end" font-family="Liberation Sans, sans-serif">2</text>
<line x1="32.5" y1="175.0" x2="34.5" y2="175.0" stroke="#444" stroke-width="1"/>
<line x1="30.5" y1="152.5" x2="34.5" y2="152.5" stroke="#444" stroke-width="1"/>
<text x="26.3" y="156.5" font-size="11" text-anchor="end" font-family="Liberation Sans, sans-serif">3</text>
<line x1="32.5" y1="130.0" x2="34.5" y2="130.0" stroke="#444" stroke-width="1"/>
<line x1="30.5" y1="107.5" x2="34.5" y2="107.5" stroke="#444" stroke-width="1"/>
<text x="26.3" y="111.5" font-size="11" text-anchor="end" font-family="Liberation Sans, sans-serif">4</text>
<line x1="32.5" y1="85.0" x2="34.5" y2="85.0" stroke="#444" stroke-width="1"/>
<line x1="30.5" y1="62.5" x2="34.5" y2="62.5" stroke="#444" stroke-width="1"/>
<text x="26.3" y="66.5" font-size="11" text-anchor="end" font-family="Liberation Sans, sans-serif">5</text>
<line x1="34.0" y1="287.5" x2="342.0" y2="287.5" stroke="#444" stroke-width="1"/>
<line x1="34.5" y1="287.5" x2="34.5" y2="291.5" stroke="#444" stroke-width="1"/>
<text x="34.5" y="304.0" font-size="11" text-anchor="middle" font-family="Liberation Sans, sans-serif">0</text>
<line x1="65.5" y1="287.5" x2="65.5" y2="289.5" stroke="#444" stroke-width="1"/>
<line x1="95.5" y1="287.5" x2="95.5" y2="291.5" stroke="#444" stroke-width="1"/>
<text x="95.5" y="304.0" font-size="11" text-anchor="middle" font-family="Liberation Sans, sans-serif">1</text>
<line x1="126.5" y1="287.5" x2="126.5" y2="289.5" stroke="#444" stroke-width="1"/>
<line x1="157.5" y1="287.5" x2="157.5" y2="291.5" stroke="#444" stroke-width="1"/>
<text x="157.5" y="304.0" font-size="11" text-anchor="middle" font-family="Liberation Sans, sans-serif">2</text>
<line x1="188.5" y1="287.5" x2="188.5" y2="289.5" stroke="#444" stroke-width="1"/>
<line x1="218.5" y1="287.5" x2="218.5" y2="291.5" stroke="#444" stroke-width="1"/>
<text x="218.5" y="304.0" font-size="11" text-anchor="middle" font-family="Liberation Sans, sans-serif">3</text>
<line x1="249.5" y1="287.5" x2="249.5" y2="289.5" stroke="#444" stroke-width="1"/>
<line x1="280.5" y1="287.5" x2="280.5" y2="291.5" stroke="#444" stroke-width="1"/>
<text x="280.5" y="304.0" font-size="11" text-anchor="middle" font-family="Liberation Sans, sans-serif">4</text>
<line x1="310.5" y1="287.5" x2="310.5" y2="289.5" stroke="#444" stroke-width="1"/>
<line x1="341.5" y1="287.5" x2="341.5" y2="291.5" stroke="#444" stroke-width="1"/>
<text x="341.5" y="304.0" font-size="11" text-anchor="middle" font-family="Liberation Sans, sans-serif">5</text>
<line x1="390.5" y1="62.0" x2="390.5" y2="288.0" stroke="#444" stroke-width="1"/>
<line x1="386.5" y1="287.5" x2="390.5" y2="287.5" stroke="#444" stroke-width="1"/>
<text x="382.3" y="291.5" font-size="11" text-anchor="end" font-family="Liberation Sans, sans-serif">0</text>
<line x1="388.5" y1="265.0" x2="390.5" y2="265.0" stroke="#444" stroke-width="1"/>
<line x1="386.5" y1="242.5" x2="390.5" y2="242.5" stroke="#444" stroke-width="1"/>
<text x="382.3" y="246.5" font-size="11" text-anchor="end" font-family="Liberation Sans, sans-serif">1</text>
<line x1="388.5" y1="220.0" x2="390.5" y2="220.0" stroke="#444" stroke-width="1"/>
<line x1="386.5" y1="197.5" x2="390.5" y2="197.5" stroke="#444" stroke-width="1"/>
<text x="382.3" y="201.5" font-size="11" text-anchor="end" font-family="Liberation Sans, sans-serif">2</text>
<line x1="388.5" y1="175.0" x2="390.5" y2="175.0" stroke="#444" stroke-width="1"/>
<line x1="386.5" y1="152.5" x2="390.5" y2="152.5" stroke="#444" stroke-width="1"/>
<text x="382.3" y="156.5" font-size="11" text-anchor="end" font-family="Liberation Sans, sans-serif">3</text>
<line x1="388.5" y1="130.0" x2="390.5" y2="130.0" stroke="#444" stroke-width="1"/>
<line x1="386.5" y1="107.5" x2="390.5" y2="107.5" stroke="#444" stroke-width="1"/>
<text x="382.3" y="111.5" font-size="11" text-anchor="end" font-family="Liberation Sans, sans-serif">4</text>
<line x1="388.5" y1="85.0" x2="390.5" y2="85.0" stroke="#444" stroke-width="1"/>
<line x1="386.5" y1="62.5" x2="390.5" y2="62.5" stroke="#444" stroke-width="1"/>
<text x="382.3" y="66.5" font-size="11" text-anchor="end" font-family="Liberation Sans, sans-serif">5</text>
<line x1="390.0" y1="287.5" x2="518.1" y2="287.5" stroke="#444" stroke-width="1"/>
<line x1="390.5" y1="287.5" x2="390.5" y2="291.5" stroke="#444" stroke-width="1"/>
<line x1="419.5" y1="287.5" x2="419.5" y2="289.5" stroke="#444" stroke-width="1"/>
<line x1="448.5" y1="287.5" x2="448.5" y2="291.5" stroke="#444" stroke-width="1"/>
<line x1="477.5" y1="287.5" x2="477.5" y2="289.5" stroke="#444" stroke-width="1"/>
<line x1="506.5" y1="287.5" x2="506.5" y2="291.5" stroke="#444" stroke-width="1"/>
<text x="390.5" y="304.0" font-size="11" text-anchor="middle" font-family="Liberation Sans, sans-serif">0</text>
<text x="448.5" y="304.0" font-size="11" text-anchor="middle" font-family="Liberation Sans, sans-serif">0,5</text>
<text x="506.5" y="304.0" font-size="11" text-anchor="middle" font-family="Liberation Sans, sans-serif">1</text>
<line x1="556.0" y1="62.0" x2="556.0" y2="288.0" stroke="#444" stroke-width="1"/>
<line x1="552.0" y1="287.5" x2="556.0" y2="287.5" stroke="#444" stroke-width="1"/>
<text x="547.8" y="291.5" font-size="11" text-anchor="end" font-family="Liberation Sans, sans-serif">0</text>
<line x1="554.0" y1="265.0" x2="556.0" y2="265.0" stroke="#444" stroke-width="1"/>
<line x1="552.0" y1="242.5" x2="556.0" y2="242.5" stroke="#444" stroke-width="1"/>
<text x="547.8" y="246.5" font-size="11" text-anchor="end" font-family="Liberation Sans, sans-serif">1</text>
<line x1="554.0" y1="220.0" x2="556.0" y2="220.0" stroke="#444" stroke-width="1"/>
<line x1="552.0" y1="197.5" x2="556.0" y2="197.5" stroke="#444" stroke-width="1"/>
<text x="547.8" y="201.5" font-size="11" text-anchor="end" font-family="Liberation Sans, sans-serif">2</text>
<line x1="554.0" y1="175.0" x2="556.0" y2="175.0" stroke="#444" stroke-width="1"/>
<line x1="552.0" y1="152.5" x2="556.0" y2="152.5" stroke="#444" stroke-width="1"/>
<text x="547.8" y="156.5" font-size="11" text-anchor="end" font-family="Liberation Sans, sans-serif">3</text>
<line x1="554.0" y1="130.0" x2="556.0" y2="130.0" stroke="#444" stroke-width="1"/>
<line x1="552.0" y1="107.5" x2="556.0" y2="107.5" stroke="#444" stroke-width="1"/>
<text x="547.8" y="111.5" font-size="11" text-anchor="end" font-family="Liberation Sans, sans-serif">4</text>
<line x1="554.0" y1="85.0" x2="556.0" y2="85.0" stroke="#444" stroke-width="1"/>
<line x1="552.0" y1="62.5" x2="556.0" y2="62.5" stroke="#444" stroke-width="1"/>
<text x="547.8" y="66.5" font-size="11" text-anchor="end" font-family="Liberation Sans, sans-serif">5</text>
<line x1="555.5" y1="287.5" x2="683.6" y2="287.5" stroke="#444" stroke-width="1"/>
<line x1="556.0" y1="287.5" x2="556.0" y2="291.5" stroke="#444" stroke-width="1"/>
<line x1="585.0" y1="287.5" x2="585.0" y2="289.5" stroke="#444" stroke-width="1"/>
<line x1="614.0" y1="287.5" x2="614.0" y2="291.5" stroke="#444" stroke-width="1"/>
<line x1="643.0" y1="287.5" x2="643.0" y2="289.5" stroke="#444" stroke-width="1"/>
<line x1="672.0" y1="287.5" x2="672.0" y2="291.5" stroke="#444" stroke-width="1"/>
<text x="556.0" y="304.0" font-size="11" text-anchor="middle" font-family="Liberation Sans, sans-serif">0</text>
<text x="614.0" y="304.0" font-size="11" text-anchor="middle" font-family="Liberation Sans, sans-serif">0,5</text>
<text x="672.0" y="304.0" font-size="11" text-anchor="middle" font-family="Liberation Sans, sans-serif">1</text>
<text x="394.2" y="11" font-size="14" text-anchor="middle" font-family="Liberation Sans, sans-serif">DPPC-DOPC</text>
<text x="33.5" y="39" font-size="16" font-family="Liberation Sans, sans-serif">a</text>
<text x="382" y="39" font-size="16" font-family="Liberation Sans, sans-serif">b</text>
<text x="547" y="39" font-size="16" font-family="Liberation Sans, sans-serif">c</text>
<text x="446.2" y="47.2" font-size="14" text-anchor="middle" font-family="Liberation Sans, sans-serif">Before irrad.</text>
<text x="612.3" y="47.2" font-size="14" text-anchor="middle" font-family="Liberation Sans, sans-serif">After irrad.</text>
<text x="449.3" y="317.8" font-size="13.6" text-anchor="middle" font-family="Liberation Sans, sans-serif">Rel. frequency</text>
<text x="614.5" y="317.8" font-size="13.6" text-anchor="middle" font-family="Liberation Sans, sans-serif">Rel. frequency</text>
<text x="174" y="318" font-size="14" font-family="Liberation Sans, sans-serif"><tspan font-family="Liberation Serif, serif" font-style="italic">x</tspan>/nm</text>
<text transform="translate(10.5,173.6) rotate(-90)" font-size="14" text-anchor="middle" font-family="Liberation Sans, sans-serif"><tspan font-family="Liberation Serif, serif" font-style="italic">F</tspan>/nN</text>
<text transform="translate(365.5,173.6) rotate(-90)" font-size="14" text-anchor="middle" font-family="Liberation Sans, sans-serif"><tspan font-family="Liberation Serif, serif" font-style="italic">F</tspan>/nN</text>
<text transform="translate(532.4,173.6) rotate(-90)" font-size="14" text-anchor="middle" font-family="Liberation Sans, sans-serif"><tspan font-family="Liberation Serif, serif" font-style="italic">F</tspan>/nN</text>
<path d="M377.3,57.5 C378.6,55.3 381.0,54.4 386.0,54.1 C402.3,53.8 420.1,53.5 435.1,53.3 C440.1,52.9 443.5,52.1 445.1,50.4 C446.70000000000005,52.1 450.1,52.9 455.1,53.3 C487.6,53.5 487.6,53.8 503.90000000000003,54.1 C508.90000000000003,54.4 511.3,55.3 512.6,57.5" fill="none" stroke="#3a3a3a" stroke-width="0.9"/>
<path d="M542.9,57.3 C544.1999999999999,55.099999999999994 546.6,54.199999999999996 551.6,53.9 C567.9,53.599999999999994 585.3,53.3 600.3,53.099999999999994 C605.3,52.699999999999996 608.6999999999999,51.9 610.3,50.8 C611.9,51.9 615.3,52.699999999999996 620.3,53.099999999999994 C653.9,53.3 653.9,53.599999999999994 670.1999999999999,53.9 C675.1999999999999,54.199999999999996 677.6,55.099999999999994 678.9,57.3" fill="none" stroke="#3a3a3a" stroke-width="0.9"/>
<rect x="193.5" y="53.5" width="70" height="58" fill="#fff" stroke="#333" stroke-width="1"/>
<line x1="203.5" y1="59.5" x2="203.5" y2="65.2" stroke="#0000ff" stroke-width="1.3"/>
<line x1="201" y1="81.5" x2="207" y2="81.5" stroke="#ff0000" stroke-width="1.1"/>
<path d="M200.9,99.65h5.7M203.75,97.1v5.1" stroke="#000" stroke-width="1.1"/>
<text x="214.48" y="66.7" font-size="14" fill="#0000ff" font-family="Liberation Serif, serif">(</text>
<text x="219.38" y="66.7" font-size="14" fill="#0000ff" font-style="italic" font-family="Liberation Serif, serif">F</text>
<text x="226.63" y="70.9" font-size="11" fill="#0000ff" font-family="Liberation Serif, serif">1</text>
<text x="231.17" y="66.7" font-size="14" fill="#0000ff" font-family="Liberation Serif, serif">,</text>
<text x="237.47" y="66.7" font-size="14" fill="#0000ff" font-style="italic" font-family="Liberation Serif, serif">x</text>
<text x="243.33" y="70.9" font-size="11" fill="#0000ff" font-family="Liberation Serif, serif">1</text>
<text x="247.55" y="66.7" font-size="14" fill="#0000ff" font-family="Liberation Serif, serif">)</text>
<text x="214.08" y="85.1" font-size="14" fill="#ff0000" font-family="Liberation Serif, serif">(</text>
<text x="218.68" y="85.1" font-size="14" fill="#ff0000" font-style="italic" font-family="Liberation Serif, serif">F</text>
<text x="224.92" y="89.2" font-size="11" fill="#ff0000" font-family="Liberation Serif, serif">2</text>
<text x="230.27" y="85.1" font-size="14" fill="#ff0000" font-family="Liberation Serif, serif">,</text>
<text x="236.87" y="85.1" font-size="14" fill="#ff0000" font-style="italic" font-family="Liberation Serif, serif">x</text>
<text x="243.02" y="89.2" font-size="11" fill="#ff0000" font-family="Liberation Serif, serif">2</text>
<text x="249.85" y="85.1" font-size="14" fill="#ff0000" font-family="Liberation Serif, serif">)</text>
<text x="245.15" y="214.9" font-size="12" fill="#00ee00" font-style="italic" font-family="Liberation Serif, serif">x</text>
<text x="250.25" y="218.6" font-size="12" fill="#00ee00" font-family="Liberation Serif, serif">1</text>
<text x="258.30" y="215" font-size="12" fill="#00ee00" font-family="Liberation Serif, serif">+</text>
<text x="269.95" y="214.9" font-size="12" fill="#00ee00" font-style="italic" font-family="Liberation Serif, serif">x</text>
<text x="274.87" y="218.6" font-size="12" fill="#00ee00" font-family="Liberation Serif, serif">2</text>
<text x="214.28" y="103.4" font-size="14" fill="#000" font-family="Liberation Serif, serif">(</text>
<text x="218.18" y="103.4" font-size="14" fill="#000" font-style="italic" font-family="Liberation Serif, serif">F</text>
<text x="227.37" y="103.4" font-size="14" fill="#000" font-family="Liberation Serif, serif">,</text>
<text x="233.97" y="103.4" font-size="14" fill="#000" font-style="italic" font-family="Liberation Serif, serif">x</text>
<text x="240.05" y="103.4" font-size="14" fill="#000" font-family="Liberation Serif, serif">)</text>
</svg></body></html>
